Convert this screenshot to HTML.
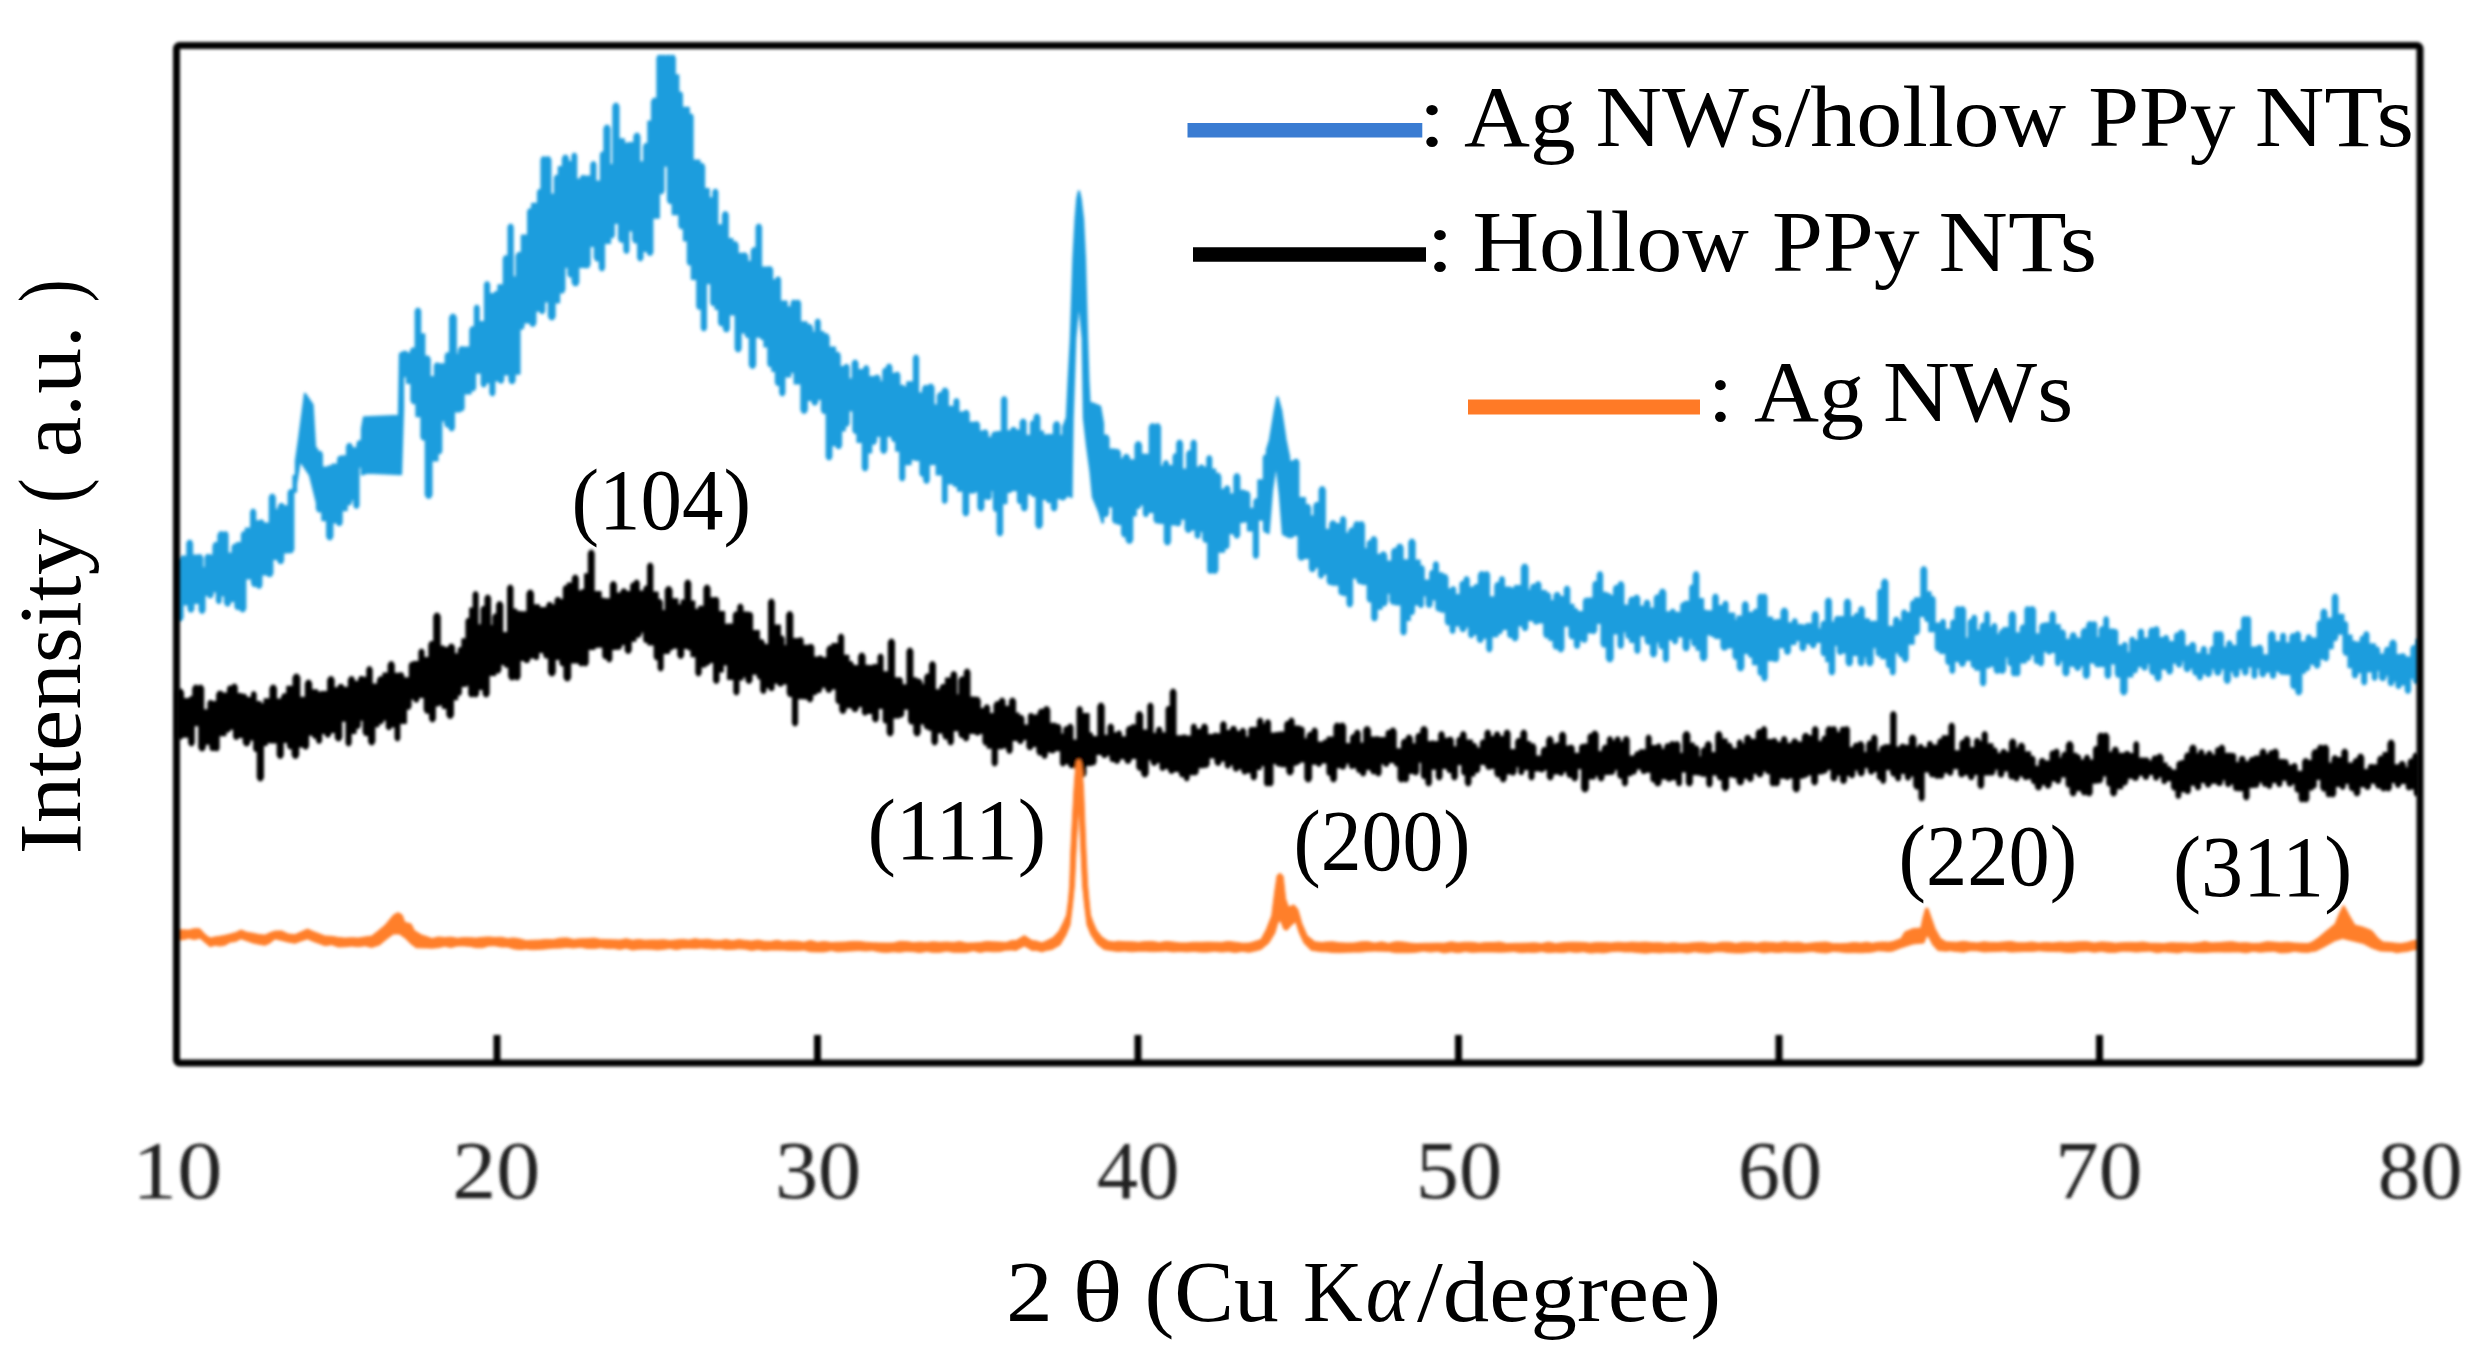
<!DOCTYPE html>
<html lang="en">
<head>
<meta charset="utf-8">
<title>XRD patterns</title>
<style>
html,body{margin:0;padding:0;background:#fff;}
body{width:2481px;height:1361px;overflow:hidden;}
svg{display:block;}
text{font-family:"Liberation Serif",serif;fill:#000;}
.tk text{fill:#222;}
</style>
</head>
<body>
<svg width="2481" height="1361" viewBox="0 0 2481 1361">
<defs>
<filter id="soft" x="-2%" y="-2%" width="104%" height="104%"><feGaussianBlur stdDeviation="1.4"/></filter>
<filter id="soft2" x="-2%" y="-2%" width="104%" height="104%"><feGaussianBlur stdDeviation="1.8"/></filter>
</defs>
<rect width="2481" height="1361" fill="#fff"/>
<g filter="url(#soft2)">
<path d="M177.5 561.6L178.6 559.7L180.2 559.7L181.3 561.6L181.3 556.8L187.4 556.8L187.4 543.2L188.7 541.0L190.7 541.0L191.9 543.2L191.9 555.6L197.0 555.6L197.0 557.9L198.4 555.4L200.7 555.4L202.1 557.9L202.1 568.2L205.7 568.2L205.7 557.4L206.9 555.2L208.8 555.2L210.0 557.4L210.0 555.7L213.6 555.7L213.6 545.8L214.9 543.3L217.1 543.3L218.5 545.8L218.5 535.2L220.0 532.5L222.3 532.5L223.8 535.2L223.8 534.3L224.8 532.5L226.4 532.5L227.4 534.3L227.4 553.8L232.7 553.8L232.7 547.0L233.9 544.9L235.8 544.9L237.0 547.0L237.0 543.2L242.0 543.2L242.0 534.4L243.1 532.4L244.8 532.4L245.9 534.4L245.9 528.7L251.2 528.7L251.2 512.0L252.3 510.0L254.0 510.0L255.1 512.0L255.1 521.5L259.4 521.5L259.4 522.8L260.5 520.8L262.3 520.8L263.5 522.8L263.5 523.8L269.9 523.8L269.9 497.4L271.2 495.0L273.3 495.0L274.7 497.4L274.7 510.2L278.8 510.2L278.8 506.9L280.3 504.3L282.6 504.3L284.1 506.9L284.1 506.5L288.7 506.5L288.7 492.7L290.1 490.2L292.3 490.2L293.6 492.7L293.6 475.9L296.0 475.9L296.0 460.8L299.0 440.0L305.0 394.0L312.5 405.0L315.0 447.5L317.0 449.2L317.0 454.4L318.4 452.0L320.5 452.0L321.8 454.4L321.8 467.8L327.4 467.8L327.4 469.0L328.9 466.4L331.1 466.4L332.6 469.0L332.6 464.8L338.2 464.8L338.2 459.0L339.3 457.0L341.0 457.0L342.1 459.0L342.1 456.4L347.1 456.4L347.1 446.6L348.4 444.3L350.4 444.3L351.7 446.6L351.7 448.4L357.5 448.4L357.5 443.6L358.8 441.5L360.7 441.5L361.9 443.6L361.9 437.1L362.0 437.1L362.0 428.8L364.0 417.5L399.0 416.0L400.0 354.0L403.0 352.2L403.0 354.1L404.2 351.9L406.1 351.9L407.3 354.1L407.3 353.8L410.9 353.8L410.9 351.2L412.3 348.7L414.4 348.7L415.8 351.2L415.8 311.1L417.0 309.0L418.9 309.0L420.1 311.1L420.1 334.5L424.2 334.5L424.2 359.3L425.7 356.6L428.1 356.6L429.6 359.3L429.6 377.3L435.0 377.3L435.0 365.7L436.1 363.7L437.9 363.7L439.0 365.7L439.0 364.5L445.8 364.5L445.8 355.6L447.1 353.4L449.0 353.4L450.2 355.6L450.2 317.7L451.8 315.0L454.1 315.0L455.7 317.7L455.7 354.6L459.2 354.6L459.2 350.1L460.6 347.5L462.9 347.5L464.3 350.1L464.3 347.6L470.4 347.6L470.4 329.8L471.7 327.5L473.7 327.5L475.0 329.8L475.0 307.8L476.0 306.0L477.6 306.0L478.6 307.8L478.6 322.2L485.1 322.2L485.1 284.4L486.2 282.5L487.9 282.5L489.0 284.4L489.0 294.2L494.3 294.2L494.3 294.4L495.5 292.3L497.3 292.3L498.5 294.4L498.5 285.4L503.9 285.4L503.9 258.7L505.2 256.4L507.3 256.4L508.6 258.7L508.6 227.0L509.7 225.0L511.5 225.0L512.6 227.0L512.6 277.4L516.7 277.4L516.7 255.9L518.1 253.2L520.4 253.2L521.9 255.9L521.9 235.6L528.2 235.6L528.2 211.5L529.3 209.5L531.1 209.5L532.2 211.5L532.2 204.0L538.1 204.0L538.1 192.1L539.0 190.3L540.6 190.3L541.6 192.1L541.6 159.5L542.7 157.5L544.5 157.5L545.6 159.5L545.6 159.9L546.9 157.5L549.0 157.5L550.3 159.9L550.3 194.7L555.0 194.7L555.0 177.8L556.1 175.9L557.8 175.9L558.9 177.8L558.9 167.2L563.0 167.2L563.0 158.5L564.3 156.0L566.5 156.0L567.9 158.5L567.9 162.2L572.5 162.2L572.5 155.8L573.5 154.0L575.1 154.0L576.1 155.8L576.1 179.6L580.9 179.6L580.9 178.3L582.0 176.3L583.7 176.3L584.8 178.3L584.8 176.7L591.4 176.7L591.4 164.5L592.5 162.5L594.3 162.5L595.3 164.5L595.3 181.8L601.0 181.8L601.0 154.5L602.0 152.7L603.5 152.7L604.5 154.5L604.5 128.5L605.9 126.0L608.1 126.0L609.4 128.5L609.4 165.1L613.5 165.1L613.5 106.4L614.9 104.0L617.0 104.0L618.4 106.4L618.4 139.5L623.8 139.5L623.8 146.4L625.3 143.7L627.7 143.7L629.2 146.4L629.2 143.1L634.5 143.1L634.5 136.4L635.9 134.0L638.0 134.0L639.3 136.4L639.3 162.5L644.2 162.5L644.2 146.2L645.4 144.1L647.2 144.1L648.4 146.2L648.4 121.8L652.1 121.8L652.1 101.7L653.6 99.0L656.0 99.0L657.5 101.7L657.5 58.1L658.6 56.0L660.5 56.0L661.6 58.1L661.6 58.1L662.8 56.0L664.6 56.0L665.7 58.1L665.7 58.5L667.1 56.0L669.3 56.0L670.7 58.5L670.7 58.0L671.8 56.0L673.6 56.0L674.7 58.0L674.7 75.4L678.2 75.4L678.2 94.4L679.2 92.6L680.8 92.6L681.8 94.4L681.8 107.9L688.7 107.9L688.7 116.6L689.8 114.7L691.5 114.7L692.5 116.6L692.5 160.6L699.4 160.6L699.4 166.6L700.7 164.3L702.7 164.3L704.0 166.6L704.0 189.3L708.7 189.3L708.7 200.9L710.0 198.4L712.2 198.4L713.5 200.9L713.5 191.9L714.6 190.0L716.2 190.0L717.2 191.9L717.2 225.5L723.1 225.5L723.1 214.7L724.3 212.5L726.3 212.5L727.6 214.7L727.6 239.1L732.2 239.1L732.2 245.1L733.7 242.4L736.0 242.4L737.5 245.1L737.5 254.0L741.7 254.0L741.7 256.4L743.2 253.7L745.6 253.7L747.2 256.4L747.2 261.9L751.9 261.9L751.9 250.9L753.2 248.5L755.4 248.5L756.7 250.9L756.7 227.1L757.9 225.0L759.7 225.0L760.9 227.1L760.9 267.7L767.5 267.7L767.5 269.6L768.7 267.4L770.7 267.4L772.0 269.6L772.0 280.5L776.3 280.5L776.3 279.5L777.3 277.6L778.9 277.6L779.9 279.5L779.9 301.6L786.6 301.6L786.6 310.0L788.0 307.4L790.3 307.4L791.7 310.0L791.7 303.1L792.8 301.0L794.7 301.0L795.9 303.1L795.9 303.0L797.0 301.0L798.8 301.0L800.0 303.0L800.0 322.5L806.5 322.5L806.5 328.0L808.0 325.3L810.4 325.3L811.9 328.0L811.9 332.8L815.9 332.8L815.9 321.9L816.9 320.0L818.6 320.0L819.6 321.9L819.6 332.2L823.2 332.2L823.2 337.1L824.7 334.5L827.0 334.5L828.5 337.1L828.5 347.6L834.9 347.6L834.9 355.4L836.2 353.0L838.3 353.0L839.6 355.4L839.6 367.2L844.4 367.2L844.4 367.2L845.5 365.2L847.3 365.2L848.4 367.2L848.4 379.5L852.8 379.5L852.8 363.3L854.1 361.0L856.1 361.0L857.4 363.3L857.4 370.2L864.2 370.2L864.2 368.5L865.3 366.5L867.1 366.5L868.2 368.5L868.2 377.2L874.6 377.2L874.6 378.3L876.0 375.9L878.1 375.9L879.5 378.3L879.5 382.1L883.4 382.1L883.4 370.9L884.4 369.1L885.9 369.1L886.9 370.9L886.9 367.2L888.2 365.0L890.1 365.0L891.3 367.2L891.3 374.0L895.2 374.0L895.2 375.0L896.3 373.0L898.1 373.0L899.2 375.0L899.2 386.0L903.0 386.0L903.0 389.5L904.2 387.4L906.1 387.4L907.3 389.5L907.3 382.5L914.0 382.5L914.0 358.0L915.1 356.0L916.9 356.0L918.0 358.0L918.0 393.4L923.2 393.4L923.2 388.7L924.5 386.3L926.6 386.3L928.0 388.7L928.0 387.7L929.5 385.0L931.9 385.0L933.4 387.7L933.4 405.4L938.0 405.4L938.0 395.7L939.2 393.5L941.1 393.5L942.4 395.7L942.4 391.7L943.8 389.0L946.2 389.0L947.7 391.7L947.7 406.9L954.6 406.9L954.6 401.3L955.6 399.4L957.3 399.4L958.3 401.3L958.3 412.6L964.0 412.6L964.0 413.6L965.2 411.3L967.3 411.3L968.5 413.6L968.5 423.0L974.4 423.0L974.4 424.8L975.6 422.5L977.7 422.5L978.9 424.8L978.9 431.6L983.3 431.6L983.3 432.8L984.4 430.8L986.2 430.8L987.4 432.8L987.4 437.9L992.4 437.9L992.4 434.9L993.8 432.6L995.9 432.6L997.2 434.9L997.2 432.1L1002.1 432.1L1002.1 399.6L1003.3 397.5L1005.1 397.5L1006.2 399.6L1006.2 431.4L1010.9 431.4L1010.9 431.0L1012.3 428.3L1014.7 428.3L1016.1 431.0L1016.1 430.8L1020.8 430.8L1020.8 422.3L1022.1 420.0L1024.2 420.0L1025.5 422.3L1025.5 436.0L1031.1 436.0L1031.1 423.4L1032.0 421.6L1033.6 421.6L1034.6 423.4L1034.6 417.3L1035.9 415.0L1037.9 415.0L1039.2 417.3L1039.2 431.7L1042.9 431.7L1042.9 437.7L1044.3 435.4L1046.4 435.4L1047.7 437.7L1047.7 435.2L1054.0 435.2L1054.0 425.1L1055.5 422.5L1057.8 422.5L1059.2 425.1L1059.2 436.0L1063.3 436.0L1063.3 426.4L1064.0 426.4L1064.0 425.3L1066.9 418.0L1068.7 380.0L1070.9 338.7L1073.5 259.0L1075.6 219.7L1077.3 199.0L1078.9 191.5L1080.6 199.0L1083.0 219.7L1084.9 259.0L1087.0 338.7L1088.3 380.0L1089.5 403.0L1094.0 404.0L1100.0 406.5L1103.0 423.6L1103.0 438.3L1104.5 435.6L1106.9 435.6L1108.4 438.3L1108.4 449.7L1114.6 449.7L1114.6 452.9L1116.1 450.3L1118.3 450.3L1119.8 452.9L1119.8 459.5L1123.6 459.5L1123.6 457.9L1125.1 455.3L1127.5 455.3L1129.0 457.9L1129.0 460.5L1135.6 460.5L1135.6 445.2L1137.1 442.5L1139.4 442.5L1140.9 445.2L1140.9 454.8L1144.5 454.8L1144.5 457.5L1146.0 454.9L1148.4 454.9L1149.8 457.5L1149.8 427.1L1151.3 424.5L1153.6 424.5L1155.0 427.1L1155.0 426.9L1156.4 424.5L1158.5 424.5L1159.9 426.9L1159.9 466.6L1164.0 466.6L1164.0 463.3L1165.1 461.4L1166.8 461.4L1167.8 463.3L1167.8 466.3L1173.7 466.3L1173.7 456.4L1174.7 454.5L1176.3 454.5L1177.3 456.4L1177.3 443.3L1178.6 441.0L1180.6 441.0L1181.9 443.3L1181.9 469.8L1187.3 469.8L1187.3 453.7L1188.5 451.5L1190.5 451.5L1191.7 453.7L1191.7 443.0L1192.8 441.0L1194.6 441.0L1195.7 443.0L1195.7 467.8L1199.3 467.8L1199.3 468.0L1200.5 465.8L1202.4 465.8L1203.6 468.0L1203.6 467.7L1207.4 467.7L1207.4 458.4L1208.4 456.5L1210.1 456.5L1211.1 458.4L1211.1 469.7L1215.1 469.7L1215.1 476.6L1216.5 474.0L1218.8 474.0L1220.2 476.6L1220.2 489.9L1225.1 489.9L1225.1 488.5L1226.2 486.6L1228.0 486.6L1229.1 488.5L1229.1 494.5L1234.5 494.5L1234.5 476.9L1235.8 474.5L1237.9 474.5L1239.2 476.9L1239.2 490.9L1244.3 490.9L1244.3 494.6L1245.7 492.1L1247.9 492.1L1249.2 494.6L1249.2 509.0L1254.5 509.0L1254.5 501.4L1255.6 499.4L1257.3 499.4L1258.4 501.4L1258.4 480.5L1263.9 480.5L1263.9 457.3L1264.8 455.8L1266.1 455.8L1267.0 457.3L1267.0 449.9L1270.0 440.0L1275.0 410.0L1277.5 397.5L1281.0 410.0L1285.5 440.0L1289.0 457.1L1289.0 464.1L1290.3 461.7L1292.5 461.7L1293.8 464.1L1293.8 462.3L1295.1 460.0L1297.0 460.0L1298.3 462.3L1298.3 498.2L1304.9 498.2L1304.9 507.7L1306.3 505.1L1308.5 505.1L1309.9 507.7L1309.9 516.5L1314.5 516.5L1314.5 505.7L1316.0 503.1L1318.3 503.1L1319.7 505.7L1319.7 490.0L1321.1 487.5L1323.3 487.5L1324.7 490.0L1324.7 529.9L1330.3 529.9L1330.3 524.2L1331.7 521.6L1334.1 521.6L1335.6 524.2L1335.6 524.2L1341.1 524.2L1341.1 519.5L1342.2 517.5L1343.9 517.5L1345.1 519.5L1345.1 533.7L1349.3 533.7L1349.3 531.3L1350.7 528.8L1352.9 528.8L1354.3 531.3L1354.3 525.0L1355.7 522.5L1357.9 522.5L1359.3 525.0L1359.3 524.8L1360.5 522.5L1362.5 522.5L1363.8 524.8L1363.8 549.1L1367.9 549.1L1367.9 543.2L1368.9 541.4L1370.5 541.4L1371.5 543.2L1371.5 539.9L1372.8 537.5L1374.9 537.5L1376.2 539.9L1376.2 555.0L1380.6 555.0L1380.6 555.5L1382.2 552.8L1384.6 552.8L1386.1 555.5L1386.1 561.7L1392.3 561.7L1392.3 551.6L1393.6 549.2L1395.8 549.2L1397.1 551.6L1397.1 547.7L1398.6 545.0L1401.0 545.0L1402.5 547.7L1402.5 560.5L1409.4 560.5L1409.4 542.6L1410.8 540.0L1413.0 540.0L1414.5 542.6L1414.5 560.8L1419.5 560.8L1419.5 568.6L1420.6 566.5L1422.5 566.5L1423.6 568.6L1423.6 580.7L1430.3 580.7L1430.3 573.1L1431.3 571.3L1433.0 571.3L1434.0 573.1L1434.0 564.4L1435.1 562.5L1436.7 562.5L1437.8 564.4L1437.8 573.4L1442.3 573.4L1442.3 577.8L1443.7 575.3L1445.9 575.3L1447.3 577.8L1447.3 589.5L1451.5 589.5L1451.5 589.2L1452.5 587.5L1454.0 587.5L1455.0 589.2L1455.0 595.2L1460.6 595.2L1460.6 584.2L1461.7 582.2L1463.5 582.2L1464.6 584.2L1464.6 579.5L1465.7 577.5L1467.5 577.5L1468.6 579.5L1468.6 587.8L1474.1 587.8L1474.1 587.6L1475.5 585.2L1477.7 585.2L1479.0 587.6L1479.0 575.2L1480.5 572.5L1482.9 572.5L1484.5 575.2L1484.5 574.7L1485.7 572.5L1487.7 572.5L1488.9 574.7L1488.9 597.4L1495.4 597.4L1495.4 585.6L1496.7 583.3L1498.8 583.3L1500.1 585.6L1500.1 579.4L1501.1 577.5L1502.8 577.5L1503.8 579.4L1503.8 587.6L1510.1 587.6L1510.1 591.3L1511.5 588.8L1513.7 588.8L1515.1 591.3L1515.1 586.2L1522.0 586.2L1522.0 567.7L1523.5 565.0L1525.9 565.0L1527.4 567.7L1527.4 590.7L1531.4 590.7L1531.4 587.2L1532.7 584.9L1534.8 584.9L1536.1 587.2L1536.1 584.6L1537.2 582.5L1539.1 582.5L1540.3 584.6L1540.3 591.1L1545.6 591.1L1545.6 595.7L1546.9 593.5L1548.8 593.5L1550.0 595.7L1550.0 601.1L1554.6 601.1L1554.6 595.6L1556.0 593.1L1558.2 593.1L1559.6 595.6L1559.6 597.3L1564.9 597.3L1564.9 589.1L1566.1 587.0L1567.9 587.0L1569.1 589.1L1569.1 605.0L1573.3 605.0L1573.3 611.3L1574.5 609.2L1576.3 609.2L1577.4 611.3L1577.4 612.1L1584.0 612.1L1584.0 601.3L1585.2 599.0L1587.2 599.0L1588.5 601.3L1588.5 598.6L1593.6 598.6L1593.6 584.3L1594.8 582.2L1596.7 582.2L1597.9 584.3L1597.9 574.6L1599.1 572.5L1600.9 572.5L1602.0 574.6L1602.0 592.9L1606.1 592.9L1606.1 596.3L1607.4 594.1L1609.4 594.1L1610.7 596.3L1610.7 596.3L1614.2 596.3L1614.2 588.4L1615.4 586.2L1617.3 586.2L1618.6 588.4L1618.6 584.8L1619.9 582.5L1621.9 582.5L1623.2 584.8L1623.2 605.7L1629.3 605.7L1629.3 600.5L1630.7 598.0L1632.9 598.0L1634.3 600.5L1634.3 598.4L1635.6 596.0L1637.7 596.0L1639.1 598.4L1639.1 606.6L1644.9 606.6L1644.9 603.1L1646.1 600.9L1648.0 600.9L1649.2 603.1L1649.2 608.8L1654.9 608.8L1654.9 598.1L1656.3 595.6L1658.5 595.6L1659.9 598.1L1659.9 592.6L1661.4 590.0L1663.6 590.0L1665.1 592.6L1665.1 612.4L1670.7 612.4L1670.7 612.0L1671.8 610.0L1673.6 610.0L1674.7 612.0L1674.7 612.9L1681.3 612.9L1681.3 605.4L1682.4 603.5L1684.0 603.5L1685.1 605.4L1685.1 601.9L1690.3 601.9L1690.3 587.6L1691.3 585.8L1692.9 585.8L1693.9 587.6L1693.9 574.7L1695.1 572.5L1697.0 572.5L1698.2 574.7L1698.2 599.3L1703.0 599.3L1703.0 612.3L1704.0 610.6L1705.5 610.6L1706.5 612.3L1706.5 611.4L1713.3 611.4L1713.3 597.2L1714.5 595.0L1716.4 595.0L1717.6 597.2L1717.6 606.1L1723.5 606.1L1723.5 603.9L1724.6 602.0L1726.4 602.0L1727.4 603.9L1727.4 613.8L1734.1 613.8L1734.1 622.4L1735.1 620.6L1736.7 620.6L1737.7 622.4L1737.7 616.7L1743.0 616.7L1743.0 604.8L1744.3 602.5L1746.3 602.5L1747.6 604.8L1747.6 613.0L1753.6 613.0L1753.6 612.3L1755.0 609.9L1757.1 609.9L1758.4 612.3L1758.4 597.0L1759.6 595.0L1761.3 595.0L1762.5 597.0L1762.5 597.0L1763.6 595.0L1765.3 595.0L1766.4 597.0L1766.4 617.7L1771.9 617.7L1771.9 623.2L1773.3 620.7L1775.6 620.7L1777.0 623.2L1777.0 620.3L1781.6 620.3L1781.6 611.7L1783.2 609.0L1785.5 609.0L1787.1 611.7L1787.1 623.5L1793.0 623.5L1793.0 621.2L1794.0 619.5L1795.6 619.5L1796.6 621.2L1796.6 625.3L1802.3 625.3L1802.3 628.2L1803.5 626.0L1805.4 626.0L1806.6 628.2L1806.6 624.1L1812.9 624.1L1812.9 614.9L1814.2 612.5L1816.3 612.5L1817.6 614.9L1817.6 629.5L1821.7 629.5L1821.7 624.1L1823.0 621.9L1824.9 621.9L1826.1 624.1L1826.1 601.4L1827.4 599.0L1829.5 599.0L1830.8 601.4L1830.8 622.6L1835.2 622.6L1835.2 619.2L1836.3 617.3L1838.0 617.3L1839.0 619.2L1839.0 617.1L1845.0 617.1L1845.0 602.5L1846.4 600.0L1848.6 600.0L1850.0 602.5L1850.0 617.3L1854.4 617.3L1854.4 616.5L1855.7 614.0L1857.9 614.0L1859.3 616.5L1859.3 609.6L1860.5 607.5L1862.4 607.5L1863.6 609.6L1863.6 619.5L1868.8 619.5L1868.8 624.0L1869.9 622.1L1871.6 622.1L1872.7 624.0L1872.7 621.9L1878.3 621.9L1878.3 592.2L1879.4 590.2L1881.1 590.2L1882.2 592.2L1882.2 582.6L1883.7 580.0L1885.9 580.0L1887.3 582.6L1887.3 627.0L1894.2 627.0L1894.2 620.0L1895.4 617.9L1897.2 617.9L1898.4 620.0L1898.4 621.8L1902.3 621.8L1902.3 612.6L1903.4 610.8L1905.0 610.8L1906.0 612.6L1906.0 613.3L1911.2 613.3L1911.2 603.3L1912.3 601.4L1914.0 601.4L1915.1 603.3L1915.1 598.5L1921.5 598.5L1921.5 569.8L1922.8 567.5L1924.8 567.5L1926.1 569.8L1926.1 592.4L1930.4 592.4L1930.4 599.3L1931.5 597.2L1933.3 597.2L1934.5 599.3L1934.5 623.8L1941.2 623.8L1941.2 622.0L1942.2 620.2L1943.8 620.2L1944.8 622.0L1944.8 629.9L1951.3 629.9L1951.3 622.7L1952.5 620.6L1954.4 620.6L1955.6 622.7L1955.6 609.6L1956.8 607.5L1958.7 607.5L1959.9 609.6L1959.9 610.0L1961.3 607.5L1963.5 607.5L1964.9 610.0L1964.9 638.6L1968.9 638.6L1968.9 622.1L1969.9 620.3L1971.4 620.3L1972.4 622.1L1972.4 617.8L1973.5 616.0L1975.0 616.0L1976.1 617.8L1976.1 630.9L1980.9 630.9L1980.9 625.8L1982.1 623.6L1984.1 623.6L1985.3 625.8L1985.3 614.3L1986.3 612.5L1987.9 612.5L1988.9 614.3L1988.9 627.7L1992.6 627.7L1992.6 626.1L1993.6 624.3L1995.2 624.3L1996.2 626.1L1996.2 635.0L2000.1 635.0L2000.1 632.3L2001.1 630.5L2002.6 630.5L2003.6 632.3L2003.6 628.2L2009.7 628.2L2009.7 615.1L2011.2 612.5L2013.5 612.5L2014.9 615.1L2014.9 633.5L2020.8 633.5L2020.8 628.0L2022.1 625.6L2024.2 625.6L2025.5 628.0L2025.5 609.5L2026.6 607.5L2028.4 607.5L2029.5 609.5L2029.5 610.2L2031.0 607.5L2033.4 607.5L2034.9 610.2L2034.9 634.4L2040.4 634.4L2040.4 626.6L2041.8 624.2L2043.8 624.2L2045.2 626.6L2045.2 623.4L2050.5 623.4L2050.5 614.6L2051.7 612.5L2053.5 612.5L2054.7 614.6L2054.7 625.2L2059.6 625.2L2059.6 633.3L2061.1 630.7L2063.4 630.7L2064.9 633.3L2064.9 640.0L2070.7 640.0L2070.7 636.0L2072.1 633.5L2074.3 633.5L2075.7 636.0L2075.7 638.8L2081.8 638.8L2081.8 632.0L2083.4 629.3L2085.8 629.3L2087.3 632.0L2087.3 625.1L2088.7 622.5L2091.0 622.5L2092.5 625.1L2092.5 624.3L2093.5 622.5L2095.1 622.5L2096.1 624.3L2096.1 637.9L2099.9 637.9L2099.9 629.7L2101.2 627.5L2103.1 627.5L2104.4 629.7L2104.4 619.3L2105.4 617.5L2106.9 617.5L2107.9 619.3L2107.9 629.8L2113.3 629.8L2113.3 632.0L2114.4 630.1L2116.0 630.1L2117.1 632.0L2117.1 646.0L2123.0 646.0L2123.0 644.8L2124.0 643.1L2125.6 643.1L2126.6 644.8L2126.6 653.3L2130.4 653.3L2130.4 639.8L2131.4 638.0L2133.0 638.0L2134.1 639.8L2134.1 640.9L2138.9 640.9L2138.9 631.9L2140.1 629.9L2141.9 629.9L2143.0 631.9L2143.0 638.6L2149.3 638.6L2149.3 631.4L2150.8 628.8L2153.1 628.8L2154.5 631.4L2154.5 629.5L2155.6 627.5L2157.4 627.5L2158.5 629.5L2158.5 638.2L2164.0 638.2L2164.0 638.4L2165.1 636.3L2167.0 636.3L2168.2 638.4L2168.2 642.2L2175.0 642.2L2175.0 635.7L2176.0 633.8L2177.7 633.8L2178.7 635.7L2178.7 633.7L2180.2 631.0L2182.6 631.0L2184.2 633.7L2184.2 646.6L2190.2 646.6L2190.2 645.5L2191.6 643.1L2193.7 643.1L2195.1 645.5L2195.1 653.6L2201.7 653.6L2201.7 649.3L2202.9 647.3L2204.7 647.3L2205.8 649.3L2205.8 655.1L2210.6 655.1L2210.6 649.2L2211.7 647.3L2213.3 647.3L2214.3 649.2L2214.3 634.3L2215.3 632.5L2216.9 632.5L2217.9 634.3L2217.9 634.9L2219.2 632.5L2221.4 632.5L2222.7 634.9L2222.7 647.9L2227.3 647.9L2227.3 643.8L2228.5 641.7L2230.3 641.7L2231.5 643.8L2231.5 646.2L2237.6 646.2L2237.6 633.1L2238.9 630.8L2240.9 630.8L2242.2 633.1L2242.2 619.6L2243.3 617.5L2245.2 617.5L2246.3 619.6L2246.3 619.3L2247.4 617.5L2249.0 617.5L2250.0 619.3L2250.0 647.6L2256.9 647.6L2256.9 648.7L2258.4 646.0L2260.7 646.0L2262.2 648.7L2262.2 655.4L2269.1 655.4L2269.1 635.2L2270.6 632.5L2273.0 632.5L2274.5 635.2L2274.5 642.3L2281.2 642.3L2281.2 635.8L2282.3 633.9L2283.9 633.9L2285.0 635.8L2285.0 643.5L2290.5 643.5L2290.5 637.0L2291.9 634.4L2294.1 634.4L2295.5 637.0L2295.5 634.6L2296.7 632.5L2298.6 632.5L2299.8 634.6L2299.8 642.3L2306.6 642.3L2306.6 638.0L2307.8 635.8L2309.7 635.8L2310.9 638.0L2310.9 638.7L2317.8 638.7L2317.8 623.7L2318.9 621.7L2320.6 621.7L2321.6 623.7L2321.6 612.3L2322.9 610.0L2325.0 610.0L2326.3 612.3L2326.3 618.6L2332.9 618.6L2332.9 597.2L2334.1 595.0L2336.1 595.0L2337.3 597.2L2337.3 615.0L2343.3 615.0L2343.3 624.2L2344.3 622.4L2346.0 622.4L2347.0 624.2L2347.0 635.7L2351.4 635.7L2351.4 643.6L2352.6 641.6L2354.3 641.6L2355.5 643.6L2355.5 642.6L2360.8 642.6L2360.8 638.7L2361.8 636.9L2363.4 636.9L2364.4 638.7L2364.4 634.4L2365.5 632.5L2367.2 632.5L2368.3 634.4L2368.3 644.5L2374.8 644.5L2374.8 649.8L2376.0 647.7L2377.9 647.7L2379.0 649.8L2379.0 654.6L2385.0 654.6L2385.0 650.5L2386.5 647.9L2388.8 647.9L2390.3 650.5L2390.3 643.6L2391.8 641.0L2394.1 641.0L2395.6 643.6L2395.6 655.3L2400.6 655.3L2400.6 656.7L2401.9 654.4L2403.9 654.4L2405.2 656.7L2405.2 657.7L2411.5 657.7L2411.5 648.7L2412.9 646.2L2415.2 646.2L2416.6 648.7L2416.6 640.0L2418.0 640.0L2418.0 680.8L2416.9 682.7L2415.2 682.7L2414.1 680.8L2414.1 677.7L2409.9 677.7L2409.9 690.5L2408.8 692.5L2407.0 692.5L2405.9 690.5L2405.9 684.2L2400.5 684.2L2400.5 685.8L2399.4 687.7L2397.7 687.7L2396.6 685.8L2396.6 680.6L2393.0 680.6L2393.0 682.8L2391.9 684.9L2390.0 684.9L2388.9 682.8L2388.9 674.6L2385.3 674.6L2385.3 677.3L2383.9 679.9L2381.6 679.9L2380.1 677.3L2380.1 669.7L2376.4 669.7L2376.4 677.7L2375.4 679.5L2373.8 679.5L2372.8 677.7L2372.8 671.4L2366.1 671.4L2366.1 682.1L2365.0 684.0L2363.4 684.0L2362.3 682.1L2362.3 672.1L2357.0 672.1L2357.0 675.1L2355.9 677.1L2354.1 677.1L2353.0 675.1L2353.0 667.1L2348.6 667.1L2348.6 652.0L2347.2 654.5L2345.0 654.5L2343.6 652.0L2343.6 633.5L2337.1 633.5L2337.1 637.7L2335.8 640.0L2333.8 640.0L2332.6 637.7L2332.6 648.1L2328.0 648.1L2328.0 658.0L2326.9 660.0L2325.1 660.0L2323.9 658.0L2323.9 658.2L2319.4 658.2L2319.4 664.9L2318.1 667.2L2316.0 667.2L2314.7 664.9L2314.7 663.6L2309.4 663.6L2309.4 667.4L2308.1 669.7L2306.1 669.7L2304.8 667.4L2304.8 672.5L2301.2 672.5L2301.2 691.6L2299.8 694.0L2297.7 694.0L2296.3 691.6L2296.3 685.3L2295.0 687.8L2292.8 687.8L2291.4 685.3L2291.4 673.8L2284.9 673.8L2284.9 670.9L2283.3 673.6L2280.9 673.6L2279.4 670.9L2279.4 670.6L2275.1 670.6L2275.1 675.4L2273.9 677.5L2272.1 677.5L2270.9 675.4L2270.9 671.5L2265.2 671.5L2265.2 673.7L2263.8 676.0L2261.8 676.0L2260.4 673.7L2260.4 667.5L2256.2 667.5L2256.2 675.7L2255.2 677.5L2253.6 677.5L2252.6 675.7L2252.6 666.3L2247.5 666.3L2247.5 672.1L2246.3 674.3L2244.4 674.3L2243.1 672.1L2243.1 668.4L2238.4 668.4L2238.4 674.1L2237.1 676.4L2235.1 676.4L2233.8 674.1L2233.8 670.9L2229.7 670.9L2229.7 680.0L2228.3 682.5L2226.2 682.5L2224.8 680.0L2224.8 668.2L2220.5 668.2L2220.5 671.7L2219.0 674.4L2216.6 674.4L2215.1 671.7L2215.1 668.1L2211.1 668.1L2211.1 672.9L2209.6 675.7L2207.2 675.7L2205.6 672.9L2205.6 673.4L2201.9 673.4L2201.9 677.0L2200.8 679.0L2199.0 679.0L2197.9 677.0L2197.9 671.9L2196.6 674.2L2194.6 674.2L2193.3 671.9L2193.3 667.6L2189.7 667.6L2189.7 668.5L2188.3 670.9L2186.1 670.9L2184.7 668.5L2184.7 660.2L2181.2 660.2L2181.2 664.3L2180.0 666.4L2178.2 666.4L2177.0 664.3L2177.0 662.5L2172.0 662.5L2172.0 670.8L2170.6 673.2L2168.5 673.2L2167.2 670.8L2167.2 668.5L2160.5 668.5L2160.5 677.6L2159.1 680.0L2156.9 680.0L2155.6 677.6L2155.6 671.1L2154.1 673.7L2151.8 673.7L2150.3 671.1L2150.3 663.0L2146.6 663.0L2146.6 667.3L2145.5 669.3L2143.7 669.3L2142.5 667.3L2142.5 666.1L2136.9 666.1L2136.9 669.8L2135.6 672.1L2133.5 672.1L2132.2 669.8L2132.2 676.2L2126.4 676.2L2126.4 691.4L2124.9 694.0L2122.7 694.0L2121.2 691.4L2121.2 674.0L2119.8 676.6L2117.5 676.6L2116.0 674.0L2116.0 663.2L2110.1 663.2L2110.1 675.3L2108.9 677.5L2106.9 677.5L2105.7 675.3L2105.7 665.9L2100.2 665.9L2100.2 663.6L2098.8 666.1L2096.5 666.1L2095.1 663.6L2095.1 662.4L2088.8 662.4L2088.8 675.0L2087.4 677.5L2085.2 677.5L2083.9 675.0L2083.9 665.1L2080.1 665.1L2080.1 667.2L2078.7 669.6L2076.6 669.6L2075.2 667.2L2075.2 665.6L2068.4 665.6L2068.4 672.6L2067.0 675.0L2064.9 675.0L2063.5 672.6L2063.5 660.4L2059.7 660.4L2059.7 663.0L2058.7 664.8L2057.1 664.8L2056.1 663.0L2056.1 651.7L2051.1 651.7L2051.1 651.3L2050.0 653.4L2048.2 653.4L2047.0 651.3L2047.0 651.0L2042.9 651.0L2042.9 663.1L2041.8 665.0L2040.1 665.0L2039.0 663.1L2039.0 660.6L2037.8 662.7L2035.9 662.7L2034.8 660.6L2034.8 654.1L2030.2 654.1L2030.2 657.3L2029.0 659.6L2027.0 659.6L2025.7 657.3L2025.7 662.3L2019.3 662.3L2019.3 673.2L2018.3 675.0L2016.7 675.0L2015.7 673.2L2015.7 673.2L2014.7 675.0L2013.1 675.0L2012.1 673.2L2012.1 663.0L2011.1 664.8L2009.6 664.8L2008.6 663.0L2008.6 656.5L2005.0 656.5L2005.0 669.8L2003.5 672.5L2001.2 672.5L1999.7 669.8L1999.7 670.0L1998.3 672.5L1996.1 672.5L1994.7 670.0L1994.7 662.9L1993.2 665.6L1990.8 665.6L1989.3 662.9L1989.3 667.1L1985.1 667.1L1985.1 683.0L1984.0 685.0L1982.2 685.0L1981.1 683.0L1981.1 669.5L1975.5 669.5L1975.5 664.9L1974.5 666.8L1972.8 666.8L1971.8 664.9L1971.8 659.7L1964.9 659.7L1964.9 662.8L1963.4 665.5L1961.1 665.5L1959.7 662.8L1959.7 660.9L1954.1 660.9L1954.1 670.7L1953.1 672.5L1951.5 672.5L1950.5 670.7L1950.5 661.6L1949.4 663.7L1947.5 663.7L1946.4 661.6L1946.4 652.8L1940.3 652.8L1940.3 648.1L1939.0 650.3L1937.1 650.3L1935.9 648.1L1935.9 631.1L1929.4 631.1L1929.4 618.6L1928.2 620.7L1926.4 620.7L1925.2 618.6L1925.2 615.8L1918.9 615.8L1918.9 631.4L1917.4 634.0L1915.1 634.0L1913.6 631.4L1913.6 643.5L1907.5 643.5L1907.5 658.8L1906.3 661.0L1904.3 661.0L1903.1 658.8L1903.1 654.2L1901.9 656.2L1900.2 656.2L1899.0 654.2L1899.0 652.1L1894.6 652.1L1894.6 672.2L1893.5 674.0L1891.9 674.0L1890.9 672.2L1890.9 665.0L1889.8 667.0L1888.1 667.0L1887.1 665.0L1887.1 658.1L1881.4 658.1L1881.4 653.1L1880.1 655.4L1878.1 655.4L1876.8 653.1L1876.8 647.1L1872.4 647.1L1872.4 662.4L1870.9 665.0L1868.7 665.0L1867.2 662.4L1867.2 656.2L1863.5 656.2L1863.5 662.5L1862.2 664.9L1860.1 664.9L1858.8 662.5L1858.8 654.9L1851.8 654.9L1851.8 662.4L1850.4 665.0L1848.1 665.0L1846.7 662.4L1846.7 652.2L1842.0 652.2L1842.0 651.8L1841.0 653.7L1839.3 653.7L1838.2 651.8L1838.2 644.7L1834.0 644.7L1834.0 671.9L1832.8 674.0L1831.0 674.0L1829.8 671.9L1829.8 661.1L1826.3 661.1L1826.3 652.9L1825.1 655.1L1823.1 655.1L1821.8 652.9L1821.8 641.9L1815.4 641.9L1815.4 644.8L1814.1 647.0L1812.2 647.0L1810.9 644.8L1810.9 643.0L1805.2 643.0L1805.2 647.7L1803.9 650.0L1801.9 650.0L1800.6 647.7L1800.6 637.4L1799.1 640.0L1796.7 640.0L1795.3 637.4L1795.3 643.8L1789.8 643.8L1789.8 651.1L1788.5 653.5L1786.4 653.5L1785.1 651.1L1785.1 647.0L1778.1 647.0L1778.1 658.3L1776.7 660.8L1774.5 660.8L1773.1 658.3L1773.1 660.1L1766.5 660.1L1766.5 678.0L1765.4 680.0L1763.6 680.0L1762.5 678.0L1762.5 672.7L1761.4 674.6L1759.7 674.6L1758.7 672.7L1758.7 664.1L1753.1 664.1L1753.1 654.3L1751.9 656.5L1749.9 656.5L1748.7 654.3L1748.7 652.7L1743.2 652.7L1743.2 667.3L1741.7 670.0L1739.4 670.0L1737.9 667.3L1737.9 656.3L1736.7 658.5L1734.8 658.5L1733.6 656.3L1733.6 647.4L1727.1 647.4L1727.1 646.6L1725.6 649.3L1723.2 649.3L1721.6 646.6L1721.6 637.8L1715.2 637.8L1715.2 633.6L1713.9 635.8L1712.0 635.8L1710.7 633.6L1710.7 634.4L1706.2 634.4L1706.2 657.3L1704.7 660.0L1702.4 660.0L1700.9 657.3L1700.9 649.6L1696.8 649.6L1696.8 643.1L1695.5 645.3L1693.6 645.3L1692.4 643.1L1692.4 638.2L1688.6 638.2L1688.6 647.5L1687.2 650.0L1685.0 650.0L1683.6 647.5L1683.6 636.3L1677.0 636.3L1677.0 641.1L1675.9 643.0L1674.2 643.0L1673.1 641.1L1673.1 639.4L1667.8 639.4L1667.8 659.1L1666.7 661.0L1665.0 661.0L1664.0 659.1L1664.0 645.8L1662.7 648.0L1660.8 648.0L1659.6 645.8L1659.6 641.6L1655.9 641.6L1655.9 653.6L1654.6 656.0L1652.4 656.0L1651.1 653.6L1651.1 640.9L1649.6 643.5L1647.2 643.5L1645.7 640.9L1645.7 635.2L1639.3 635.2L1639.3 650.5L1638.2 652.5L1636.5 652.5L1635.4 650.5L1635.4 641.7L1630.3 641.7L1630.3 635.7L1629.3 637.6L1627.6 637.6L1626.6 635.7L1626.6 631.3L1622.7 631.3L1622.7 645.5L1621.6 647.5L1619.8 647.5L1618.7 645.5L1618.7 633.4L1612.5 633.4L1612.5 658.3L1611.0 661.0L1608.6 661.0L1607.0 658.3L1607.0 643.7L1605.5 646.3L1603.2 646.3L1601.7 643.7L1601.7 622.8L1596.0 622.8L1596.0 630.4L1594.6 632.7L1592.6 632.7L1591.2 630.4L1591.2 632.3L1586.4 632.3L1586.4 639.6L1585.3 641.6L1583.6 641.6L1582.5 639.6L1582.5 640.0L1579.0 640.0L1579.0 645.5L1577.9 647.5L1576.1 647.5L1575.0 645.5L1575.0 635.4L1573.5 638.1L1571.1 638.1L1569.6 635.4L1569.6 625.6L1563.3 625.6L1563.3 648.5L1561.9 651.0L1559.7 651.0L1558.4 648.5L1558.4 646.1L1557.1 648.3L1555.1 648.3L1553.8 646.1L1553.8 639.8L1549.5 639.8L1549.5 634.4L1548.0 637.0L1545.7 637.0L1544.3 634.4L1544.3 622.3L1538.6 622.3L1538.6 620.6L1537.1 623.2L1534.9 623.2L1533.5 620.6L1533.5 620.1L1527.1 620.1L1527.1 627.8L1525.9 629.8L1524.2 629.8L1523.0 627.8L1523.0 625.3L1517.4 625.3L1517.4 637.7L1516.1 640.0L1514.0 640.0L1512.7 637.7L1512.7 634.7L1511.5 636.9L1509.5 636.9L1508.3 634.7L1508.3 628.8L1501.9 628.8L1501.9 630.7L1500.6 633.0L1498.6 633.0L1497.3 630.7L1497.3 636.0L1491.3 636.0L1491.3 649.0L1490.2 651.0L1488.5 651.0L1487.4 649.0L1487.4 637.6L1482.6 637.6L1482.6 639.2L1481.3 641.6L1479.2 641.6L1477.8 639.2L1477.8 634.1L1473.0 634.1L1473.0 634.9L1471.9 636.8L1470.3 636.8L1469.3 634.9L1469.3 626.2L1465.4 626.2L1465.4 628.4L1464.0 630.9L1461.9 630.9L1460.5 628.4L1460.5 625.2L1454.4 625.2L1454.4 630.7L1453.4 632.5L1451.8 632.5L1450.8 630.7L1450.8 621.9L1449.4 624.3L1447.4 624.3L1446.0 621.9L1446.0 611.5L1441.2 611.5L1441.2 608.1L1439.9 610.4L1437.8 610.4L1436.5 608.1L1436.5 599.3L1431.5 599.3L1431.5 604.3L1430.2 606.6L1428.2 606.6L1426.9 604.3L1426.9 595.4L1422.7 595.4L1422.7 604.9L1421.7 606.8L1420.0 606.8L1419.0 604.9L1419.0 604.3L1413.8 604.3L1413.8 611.8L1412.7 613.9L1410.8 613.9L1409.6 611.8L1409.6 619.9L1405.6 619.9L1405.6 631.9L1404.5 634.0L1402.6 634.0L1401.5 631.9L1401.5 604.2L1395.8 604.2L1395.8 601.0L1394.3 603.5L1392.1 603.5L1390.6 601.0L1390.6 592.7L1386.6 592.7L1386.6 602.5L1385.1 605.1L1382.9 605.1L1381.4 602.5L1381.4 608.6L1376.6 608.6L1376.6 617.9L1375.4 620.0L1373.5 620.0L1372.3 617.9L1372.3 599.0L1371.0 601.3L1369.0 601.3L1367.8 599.0L1367.8 583.7L1362.4 583.7L1362.4 580.3L1361.0 582.8L1358.9 582.8L1357.5 580.3L1357.5 577.6L1351.9 577.6L1351.9 603.8L1350.7 606.0L1348.8 606.0L1347.6 603.8L1347.6 594.8L1343.0 594.8L1343.0 592.1L1342.0 593.9L1340.4 593.9L1339.5 592.1L1339.5 584.6L1332.5 584.6L1332.5 581.4L1331.2 583.8L1329.1 583.8L1327.8 581.4L1327.8 573.5L1322.9 573.5L1322.9 575.4L1321.9 577.3L1320.2 577.3L1319.2 575.4L1319.2 566.7L1314.8 566.7L1314.8 568.5L1313.5 570.9L1311.3 570.9L1310.0 568.5L1310.0 557.9L1304.0 557.9L1304.0 556.7L1302.5 559.4L1300.2 559.4L1298.7 556.7L1298.7 534.9L1293.7 534.9L1293.7 534.4L1292.4 536.8L1290.3 536.8L1289.0 534.4L1289.0 537.0L1283.0 534.0L1280.0 495.0L1276.2 461.0L1272.0 490.0L1268.5 533.0L1267.0 532.4L1267.0 529.9L1266.2 531.3L1264.9 531.3L1264.1 529.9L1264.1 519.6L1257.8 519.6L1257.8 555.5L1256.7 557.5L1255.0 557.5L1253.9 555.5L1253.9 530.2L1248.0 530.2L1248.0 518.7L1246.5 521.4L1244.1 521.4L1242.6 518.7L1242.6 521.9L1239.1 521.9L1239.1 534.9L1237.8 537.2L1235.8 537.2L1234.5 534.9L1234.5 533.1L1228.4 533.1L1228.4 545.8L1227.2 547.9L1225.3 547.9L1224.1 545.8L1224.1 551.6L1217.3 551.6L1217.3 569.9L1215.9 572.5L1213.6 572.5L1212.1 569.9L1212.1 570.6L1211.1 572.5L1209.4 572.5L1208.3 570.6L1208.3 539.2L1207.0 541.6L1204.9 541.6L1203.5 539.2L1203.5 530.9L1199.4 530.9L1199.4 535.6L1198.4 537.4L1196.8 537.4L1195.8 535.6L1195.8 529.4L1191.0 529.4L1191.0 529.0L1189.5 531.6L1187.3 531.6L1185.8 529.0L1185.8 518.5L1180.3 518.5L1180.3 522.9L1179.1 525.1L1177.2 525.1L1175.9 522.9L1175.9 524.2L1169.9 524.2L1169.9 541.5L1168.5 544.0L1166.3 544.0L1164.9 541.5L1164.9 522.8L1159.7 522.8L1159.7 519.8L1158.3 522.3L1156.1 522.3L1154.6 519.8L1154.6 511.7L1147.7 511.7L1147.7 513.9L1146.7 515.8L1145.1 515.8L1144.0 513.9L1144.0 504.3L1139.9 504.3L1139.9 505.8L1138.7 507.9L1136.9 507.9L1135.7 505.8L1135.7 515.3L1132.1 515.3L1132.1 539.8L1130.6 542.5L1128.2 542.5L1126.6 539.8L1126.6 533.7L1125.4 536.0L1123.4 536.0L1122.2 533.7L1122.2 523.8L1118.1 523.8L1118.1 520.2L1116.7 522.6L1114.6 522.6L1113.2 520.2L1113.2 506.2L1107.9 506.2L1107.9 513.4L1106.5 515.8L1104.4 515.8L1103.0 513.4L1103.0 521.7L1102.5 522.5L1098.8 510.7L1093.0 497.0L1090.5 471.0L1087.0 445.0L1084.0 418.0L1082.7 338.7L1078.9 298.0L1075.2 338.7L1072.6 418.0L1071.8 470.0L1071.5 497.0L1067.5 495.0L1064.0 498.9L1064.0 497.8L1063.2 499.3L1061.9 499.3L1061.1 497.8L1061.1 498.1L1056.3 498.1L1056.3 507.8L1055.1 510.0L1053.1 510.0L1051.9 507.8L1051.9 499.1L1050.4 501.8L1048.0 501.8L1046.4 499.1L1046.4 498.7L1041.7 498.7L1041.7 524.9L1040.2 527.5L1037.9 527.5L1036.5 524.9L1036.5 493.2L1035.0 495.7L1032.8 495.7L1031.4 493.2L1031.4 493.4L1026.6 493.4L1026.6 507.7L1025.4 510.0L1023.3 510.0L1022.0 507.7L1022.0 500.8L1020.9 502.8L1019.1 502.8L1018.0 500.8L1018.0 490.0L1011.7 490.0L1011.7 489.2L1010.2 491.9L1007.9 491.9L1006.4 489.2L1006.4 503.1L1002.0 503.1L1002.0 532.9L1000.8 535.0L998.9 535.0L997.7 532.9L997.7 508.7L996.7 510.5L995.1 510.5L994.0 508.7L994.0 490.1L990.5 490.1L990.5 496.9L989.5 498.7L987.9 498.7L986.9 496.9L986.9 498.3L983.3 498.3L983.3 507.6L981.9 510.0L979.9 510.0L978.5 507.6L978.5 488.9L977.3 491.1L975.4 491.1L974.2 488.9L974.2 492.3L968.0 492.3L968.0 512.8L966.7 515.0L964.8 515.0L963.6 512.8L963.6 490.6L958.1 490.6L958.1 483.5L956.7 485.9L954.6 485.9L953.3 483.5L953.3 483.4L946.5 483.4L946.5 500.7L945.5 502.5L943.9 502.5L943.0 500.7L943.0 474.4L936.7 474.4L936.7 461.8L935.5 463.8L933.7 463.8L932.6 461.8L932.6 464.0L928.7 464.0L928.7 480.3L927.5 482.5L925.6 482.5L924.3 480.3L924.3 473.6L923.3 475.5L921.6 475.5L920.5 473.6L920.5 459.9L915.8 459.9L915.8 456.4L914.4 459.0L912.1 459.0L910.6 456.4L910.6 464.0L904.1 464.0L904.1 478.1L903.0 480.0L901.3 480.0L900.3 478.1L900.3 450.5L896.2 450.5L896.2 438.6L895.1 440.7L893.3 440.7L892.1 438.6L892.1 435.7L886.2 435.7L886.2 450.0L884.8 452.5L882.7 452.5L881.3 450.0L881.3 435.9L875.9 435.9L875.9 441.2L874.5 443.6L872.4 443.6L871.1 441.2L871.1 452.3L867.2 452.3L867.2 467.8L866.0 470.0L864.1 470.0L862.9 467.8L862.9 441.8L857.5 441.8L857.5 430.7L856.4 432.7L854.7 432.7L853.5 430.7L853.5 410.2L848.5 410.2L848.5 423.5L847.4 425.5L845.7 425.5L844.7 423.5L844.7 430.3L841.0 430.3L841.0 445.4L839.6 447.8L837.6 447.8L836.2 445.4L836.2 445.1L831.3 445.1L831.3 456.7L830.1 459.0L828.0 459.0L826.8 456.7L826.8 410.4L825.4 412.7L823.4 412.7L822.0 410.4L822.0 398.7L817.1 398.7L817.1 401.9L815.8 404.3L813.7 404.3L812.4 401.9L812.4 399.7L806.7 399.7L806.7 409.9L805.2 412.5L803.0 412.5L801.5 409.9L801.5 383.4L794.7 383.4L794.7 369.4L793.5 371.7L791.5 371.7L790.2 369.4L790.2 376.2L784.3 376.2L784.3 393.0L783.2 395.0L781.4 395.0L780.3 393.0L780.3 382.6L779.1 384.7L777.2 384.7L776.0 382.6L776.0 370.7L772.4 370.7L772.4 363.9L771.3 366.0L769.5 366.0L768.4 363.9L768.4 346.4L764.5 346.4L764.5 337.1L763.5 338.9L761.9 338.9L760.9 337.1L760.9 336.6L755.0 336.6L755.0 365.0L753.6 367.5L751.4 367.5L749.9 365.0L749.9 334.7L748.8 336.8L746.9 336.8L745.8 334.7L745.8 332.4L740.5 332.4L740.5 348.6L739.2 351.0L737.1 351.0L735.8 348.6L735.8 314.3L728.8 314.3L728.8 328.6L727.5 331.0L725.3 331.0L724.0 328.6L724.0 322.8L722.6 325.1L720.6 325.1L719.2 322.8L719.2 308.9L715.7 308.9L715.7 302.8L714.4 304.9L712.5 304.9L711.3 302.8L711.3 283.1L705.8 283.1L705.8 328.1L704.7 330.0L703.0 330.0L701.9 328.1L701.9 306.3L700.6 308.6L698.6 308.6L697.3 306.3L697.3 278.8L691.9 278.8L691.9 262.3L690.8 264.3L689.0 264.3L687.9 262.3L687.9 240.2L684.0 240.2L684.0 225.7L682.7 228.0L680.7 228.0L679.5 225.7L679.5 214.1L672.8 214.1L672.8 200.4L671.5 202.8L669.4 202.8L668.1 200.4L668.1 165.6L663.4 165.6L663.4 190.8L662.1 193.1L660.1 193.1L658.8 190.8L658.8 217.5L652.3 217.5L652.3 252.2L650.9 254.6L648.9 254.6L647.6 252.2L647.6 250.8L642.4 250.8L642.4 257.9L641.2 260.0L639.4 260.0L638.2 257.9L638.2 239.8L636.8 242.2L634.7 242.2L633.3 239.8L633.3 230.4L628.3 230.4L628.3 250.6L627.3 252.5L625.6 252.5L624.5 250.6L624.5 238.8L623.0 241.5L620.6 241.5L619.1 238.8L619.1 222.9L613.7 222.9L613.7 235.2L612.6 237.1L610.9 237.1L609.9 235.2L609.9 242.9L603.9 242.9L603.9 268.0L602.8 270.0L601.0 270.0L599.9 268.0L599.9 257.7L598.5 260.2L596.3 260.2L594.9 257.7L594.9 245.8L589.5 245.8L589.5 264.4L587.9 267.1L585.5 267.1L584.0 264.4L584.0 266.8L578.2 266.8L578.2 282.3L576.7 285.0L574.3 285.0L572.7 282.3L572.7 274.3L571.6 276.4L569.7 276.4L568.6 274.3L568.6 266.8L564.3 266.8L564.3 289.7L562.8 292.4L560.5 292.4L559.0 289.7L559.0 302.3L554.5 302.3L554.5 316.3L553.0 319.0L550.6 319.0L549.0 316.3L549.0 301.2L544.1 301.2L544.1 310.9L543.0 312.9L541.3 312.9L540.2 310.9L540.2 310.5L535.3 310.5L535.3 322.9L533.9 325.5L531.6 325.5L530.1 322.9L530.1 322.3L523.4 322.3L523.4 326.4L522.3 328.5L520.5 328.5L519.4 326.4L519.4 373.6L514.5 373.6L514.5 380.5L513.1 382.9L511.0 382.9L509.6 380.5L509.6 374.2L503.1 374.2L503.1 380.2L501.9 382.4L499.9 382.4L498.7 380.2L498.7 380.4L494.2 380.4L494.2 393.1L493.2 395.0L491.6 395.0L490.5 393.1L490.5 382.3L485.5 382.3L485.5 384.3L484.5 386.1L482.9 386.1L481.8 384.3L481.8 372.5L475.0 372.5L475.0 387.8L473.7 390.1L471.7 390.1L470.5 387.8L470.5 393.2L463.5 393.2L463.5 408.2L462.4 410.1L460.8 410.1L459.8 408.2L459.8 411.4L453.8 411.4L453.8 427.9L452.6 430.0L450.7 430.0L449.5 427.9L449.5 424.2L448.3 426.2L446.6 426.2L445.5 424.2L445.5 420.3L441.2 420.3L441.2 451.2L440.1 453.1L438.4 453.1L437.4 451.2L437.4 460.2L431.4 460.2L431.4 494.8L429.9 497.5L427.5 497.5L425.9 494.8L425.9 436.9L424.7 439.2L422.7 439.2L421.5 436.9L421.5 416.0L416.5 416.0L416.5 400.5L415.1 403.0L412.9 403.0L411.5 400.5L411.5 382.8L407.1 382.8L407.1 374.0L405.9 376.1L404.1 376.1L403.0 374.0L403.0 408.0L401.0 474.0L367.5 472.5L362.0 474.3L362.0 466.5L358.4 466.5L358.4 505.5L357.3 507.5L355.5 507.5L354.4 505.5L354.4 498.7L350.9 498.7L350.9 502.1L349.7 504.2L347.8 504.2L346.6 502.1L346.6 510.1L341.6 510.1L341.6 522.7L340.3 524.9L338.3 524.9L337.1 522.7L337.1 522.3L332.3 522.3L332.3 536.5L330.9 539.0L328.6 539.0L327.2 536.5L327.2 520.0L322.4 520.0L322.4 508.7L320.9 511.4L318.5 511.4L317.0 508.7L317.0 503.0L310.0 475.0L300.0 460.0L296.0 484.0L296.0 491.5L293.2 491.5L293.2 549.3L291.7 552.0L289.3 552.0L287.8 549.3L287.8 552.2L283.0 552.2L283.0 560.4L281.7 562.9L279.5 562.9L278.1 560.4L278.1 558.8L272.3 558.8L272.3 573.1L270.8 575.8L268.4 575.8L266.9 573.1L266.9 574.4L261.3 574.4L261.3 585.2L260.1 587.5L258.1 587.5L256.8 585.2L256.8 583.3L255.5 585.7L253.4 585.7L252.1 583.3L252.1 578.2L245.2 578.2L245.2 608.4L243.8 611.0L241.5 611.0L240.1 608.4L240.1 606.5L238.8 608.8L236.8 608.8L235.5 606.5L235.5 600.7L230.1 600.7L230.1 602.7L228.7 605.2L226.5 605.2L225.1 602.7L225.1 595.2L220.5 595.2L220.5 600.9L219.6 602.7L218.0 602.7L217.0 600.9L217.0 591.3L212.5 591.3L212.5 594.9L211.2 597.1L209.3 597.1L208.1 594.9L208.1 594.9L204.4 594.9L204.4 610.2L203.1 612.5L201.1 612.5L199.8 610.2L199.8 602.7L193.2 602.7L193.2 609.2L191.9 611.4L189.9 611.4L188.7 609.2L188.7 604.4L182.5 604.4L182.5 617.5L181.1 620.0L178.9 620.0L177.5 617.5Z" fill="#1f9ddd" stroke="#1f9ddd" stroke-width="2.4" stroke-linejoin="round"/>
<path d="M177.5 692.7L179.0 690.0L181.4 690.0L182.9 692.7L182.9 699.1L189.7 699.1L189.7 699.0L190.8 697.2L192.4 697.2L193.4 699.0L193.4 688.4L194.8 686.0L196.9 686.0L198.2 688.4L198.2 688.4L199.6 686.0L201.6 686.0L203.0 688.4L203.0 710.5L208.6 710.5L208.6 703.0L209.6 701.1L211.3 701.1L212.4 703.0L212.4 702.3L217.3 702.3L217.3 694.6L218.8 691.9L221.2 691.9L222.8 694.6L222.8 693.7L228.2 693.7L228.2 688.7L229.3 686.7L231.1 686.7L232.2 688.7L232.2 687.2L233.4 685.0L235.4 685.0L236.6 687.2L236.6 694.2L241.2 694.2L241.2 697.6L242.7 694.9L245.0 694.9L246.5 697.6L246.5 698.2L252.0 698.2L252.0 694.3L253.0 692.5L254.5 692.5L255.5 694.3L255.5 702.1L260.2 702.1L260.2 706.7L261.4 704.4L263.4 704.4L264.7 706.7L264.7 699.5L270.6 699.5L270.6 688.6L272.0 686.0L274.4 686.0L275.8 688.6L275.8 699.6L282.1 699.6L282.1 697.2L283.6 694.5L286.0 694.5L287.4 697.2L287.4 686.9L293.7 686.9L293.7 677.7L295.2 675.0L297.6 675.0L299.2 677.7L299.2 697.9L306.0 697.9L306.0 683.5L307.4 681.0L309.6 681.0L311.0 683.5L311.0 690.5L317.0 690.5L317.0 694.9L318.3 692.6L320.3 692.6L321.6 694.9L321.6 692.3L328.3 692.3L328.3 680.1L329.8 677.5L332.1 677.5L333.5 680.1L333.5 688.4L338.2 688.4L338.2 687.9L339.7 685.2L342.1 685.2L343.5 687.9L343.5 687.9L349.0 687.9L349.0 680.0L350.4 677.5L352.6 677.5L354.0 680.0L354.0 682.1L359.2 682.1L359.2 679.3L360.3 677.2L362.2 677.2L363.3 679.3L363.3 677.9L367.4 677.9L367.4 669.5L368.5 667.5L370.3 667.5L371.5 669.5L371.5 684.6L378.1 684.6L378.1 680.2L379.7 677.5L382.0 677.5L383.6 680.2L383.6 673.8L388.8 673.8L388.8 664.9L390.2 662.5L392.3 662.5L393.6 664.9L393.6 674.0L399.2 674.0L399.2 675.4L400.3 673.5L402.0 673.5L403.1 675.4L403.1 678.4L409.9 678.4L409.9 665.1L410.9 663.3L412.5 663.3L413.5 665.1L413.5 662.2L419.6 662.2L419.6 651.9L420.6 650.0L422.4 650.0L423.4 651.9L423.4 658.2L429.5 658.2L429.5 644.6L430.9 642.2L433.0 642.2L434.4 644.6L434.4 616.6L435.8 614.0L438.1 614.0L439.6 616.6L439.6 646.7L443.5 646.7L443.5 650.9L444.9 648.3L447.2 648.3L448.7 650.9L448.7 647.6L450.2 645.0L452.5 645.0L453.9 647.6L453.9 654.4L458.9 654.4L458.9 649.9L459.9 648.1L461.5 648.1L462.5 649.9L462.5 639.5L466.6 639.5L466.6 621.0L467.6 619.1L469.2 619.1L470.3 621.0L470.3 608.6L473.8 608.6L473.8 594.3L474.8 592.5L476.4 592.5L477.4 594.3L477.4 625.5L481.8 625.5L481.8 609.0L482.9 607.1L484.5 607.1L485.6 609.0L485.6 598.1L486.8 596.0L488.7 596.0L489.9 598.1L489.9 626.2L493.5 626.2L493.5 616.7L494.6 614.8L496.3 614.8L497.3 616.7L497.3 604.9L498.6 602.5L500.7 602.5L502.1 604.9L502.1 633.2L508.2 633.2L508.2 588.1L509.3 586.0L511.2 586.0L512.3 588.1L512.3 609.8L515.9 609.8L515.9 614.5L517.3 611.9L519.6 611.9L521.0 614.5L521.0 612.5L527.6 612.5L527.6 593.6L529.1 591.0L531.4 591.0L532.8 593.6L532.8 605.5L538.8 605.5L538.8 610.3L539.9 608.3L541.7 608.3L542.8 610.3L542.8 608.2L547.4 608.2L547.4 605.4L548.6 603.2L550.5 603.2L551.8 605.4L551.8 605.4L555.7 605.4L555.7 600.3L556.9 598.1L558.8 598.1L560.0 600.3L560.0 600.2L564.0 600.2L564.0 588.4L565.1 586.4L566.9 586.4L568.0 588.4L568.0 583.6L573.0 583.6L573.0 578.3L574.3 576.0L576.3 576.0L577.6 578.3L577.6 591.5L581.6 591.5L581.6 591.9L582.6 590.1L584.2 590.1L585.2 591.9L585.2 574.5L589.0 574.5L589.0 553.3L590.3 551.0L592.3 551.0L593.5 553.3L593.5 592.2L600.5 592.2L600.5 601.7L602.0 598.9L604.4 598.9L606.0 601.7L606.0 599.5L611.0 599.5L611.0 584.8L612.3 582.5L614.4 582.5L615.7 584.8L615.7 593.6L621.4 593.6L621.4 592.2L622.8 589.7L624.9 589.7L626.3 592.2L626.3 592.1L631.3 592.1L631.3 585.5L632.3 583.8L633.8 583.8L634.8 585.5L634.8 582.9L635.8 581.0L637.5 581.0L638.5 582.9L638.5 591.8L644.5 591.8L644.5 588.6L645.6 586.8L647.2 586.8L648.2 588.6L648.2 566.0L649.3 564.0L651.1 564.0L652.2 566.0L652.2 592.6L657.5 592.6L657.5 602.3L658.7 600.2L660.5 600.2L661.6 602.3L661.6 611.2L665.9 611.2L665.9 590.2L667.4 587.5L669.8 587.5L671.3 590.2L671.3 599.4L677.3 599.4L677.3 607.6L678.6 605.4L680.6 605.4L681.9 607.6L681.9 600.6L685.5 600.6L685.5 583.3L686.8 581.0L688.8 581.0L690.1 583.3L690.1 601.6L694.2 601.6L694.2 612.4L695.7 609.9L697.9 609.9L699.3 612.4L699.3 606.9L704.6 606.9L704.6 588.4L706.0 586.0L708.0 586.0L709.4 588.4L709.4 598.5L713.9 598.5L713.9 600.3L715.1 598.1L716.9 598.1L718.1 600.3L718.1 612.3L724.0 612.3L724.0 627.0L725.2 624.9L727.0 624.9L728.1 627.0L728.1 624.8L734.0 624.8L734.0 614.9L735.2 612.7L737.2 612.7L738.4 614.9L738.4 607.0L739.5 605.0L741.2 605.0L742.3 607.0L742.3 612.7L747.9 612.7L747.9 615.2L749.0 613.2L750.8 613.2L751.9 615.2L751.9 631.1L758.7 631.1L758.7 642.9L760.1 640.4L762.3 640.4L763.7 642.9L763.7 645.3L769.2 645.3L769.2 602.2L770.5 600.0L772.4 600.0L773.6 602.2L773.6 625.8L779.8 625.8L779.8 638.7L780.8 636.8L782.5 636.8L783.5 638.7L783.5 646.1L787.3 646.1L787.3 614.9L788.7 612.5L790.8 612.5L792.1 614.9L792.1 639.3L799.0 639.3L799.0 640.1L799.9 638.4L801.5 638.4L802.5 640.1L802.5 646.0L808.7 646.0L808.7 647.4L810.0 645.2L812.0 645.2L813.2 647.4L813.2 657.7L818.3 657.7L818.3 658.7L819.4 656.7L821.2 656.7L822.4 658.7L822.4 658.4L827.5 658.4L827.5 649.3L829.0 646.8L831.2 646.8L832.6 649.3L832.6 644.1L839.1 644.1L839.1 637.0L840.2 635.0L841.9 635.0L843.0 637.0L843.0 656.0L848.2 656.0L848.2 664.4L849.5 662.2L851.4 662.2L852.6 664.4L852.6 666.1L859.3 666.1L859.3 656.6L860.7 654.0L863.0 654.0L864.4 656.6L864.4 666.0L868.3 666.0L868.3 668.9L869.8 666.2L872.2 666.2L873.8 668.9L873.8 665.1L878.7 665.1L878.7 656.8L879.8 655.0L881.4 655.0L882.4 656.8L882.4 672.5L889.0 672.5L889.0 642.4L890.4 640.0L892.5 640.0L893.8 642.4L893.8 678.4L897.8 678.4L897.8 680.4L898.9 678.4L900.6 678.4L901.7 680.4L901.7 685.4L907.6 685.4L907.6 651.3L908.9 649.0L910.9 649.0L912.2 651.3L912.2 678.5L916.1 678.5L916.1 682.7L917.6 680.0L920.0 680.0L921.5 682.7L921.5 685.5L925.3 685.5L925.3 677.3L926.7 674.8L928.9 674.8L930.2 677.3L930.2 664.7L931.5 662.5L933.4 662.5L934.7 664.7L934.7 690.5L940.6 690.5L940.6 687.8L942.2 685.1L944.6 685.1L946.1 687.8L946.1 678.6L951.6 678.6L951.6 674.7L952.8 672.5L954.8 672.5L956.0 674.7L956.0 695.4L959.6 695.4L959.6 680.4L961.1 677.7L963.4 677.7L964.9 680.4L964.9 672.2L966.1 670.0L968.1 670.0L969.3 672.2L969.3 697.6L974.3 697.6L974.3 700.7L975.8 698.0L978.1 698.0L979.6 700.7L979.6 709.2L984.8 709.2L984.8 707.7L985.9 705.6L987.8 705.6L988.9 707.7L988.9 714.1L994.7 714.1L994.7 705.1L996.2 702.5L998.5 702.5L999.9 705.1L999.9 701.2L1001.2 699.0L1003.0 699.0L1004.3 701.2L1004.3 706.9L1010.1 706.9L1010.1 701.4L1011.4 699.0L1013.5 699.0L1014.9 701.4L1014.9 713.7L1018.4 713.7L1018.4 718.7L1019.8 716.2L1021.9 716.2L1023.3 718.7L1023.3 725.6L1029.1 725.6L1029.1 715.8L1030.1 714.1L1031.6 714.1L1032.6 715.8L1032.6 715.6L1038.7 715.6L1038.7 712.7L1040.2 710.0L1042.5 710.0L1044.0 712.7L1044.0 710.1L1045.4 707.5L1047.7 707.5L1049.1 710.1L1049.1 724.0L1055.3 724.0L1055.3 727.6L1056.7 725.2L1058.9 725.2L1060.3 727.6L1060.3 734.6L1064.5 734.6L1064.5 729.3L1065.5 727.4L1067.2 727.4L1068.2 729.3L1068.2 727.0L1069.4 725.0L1071.1 725.0L1072.3 727.0L1072.3 740.6L1077.7 740.6L1077.7 709.5L1078.8 707.5L1080.5 707.5L1081.6 709.5L1081.6 714.3L1088.5 714.3L1088.5 735.1L1089.5 733.4L1091.1 733.4L1092.0 735.1L1092.0 737.2L1098.5 737.2L1098.5 706.5L1099.9 704.0L1102.1 704.0L1103.5 706.5L1103.5 735.9L1108.7 735.9L1108.7 727.1L1109.8 725.0L1111.7 725.0L1112.8 727.1L1112.8 733.4L1117.3 733.4L1117.3 733.5L1118.3 731.7L1119.8 731.7L1120.8 733.5L1120.8 737.5L1127.0 737.5L1127.0 729.8L1128.4 727.3L1130.6 727.3L1132.0 729.8L1132.0 725.4L1136.9 725.4L1136.9 715.0L1138.3 712.5L1140.5 712.5L1142.0 715.0L1142.0 730.8L1148.5 730.8L1148.5 705.9L1149.6 704.0L1151.2 704.0L1152.3 705.9L1152.3 734.0L1157.1 734.0L1157.1 730.0L1158.3 727.9L1160.1 727.9L1161.2 730.0L1161.2 733.4L1166.7 733.4L1166.7 709.2L1167.9 707.1L1169.7 707.1L1170.9 709.2L1170.9 692.2L1172.1 690.0L1174.1 690.0L1175.3 692.2L1175.3 736.4L1181.9 736.4L1181.9 737.9L1183.2 735.6L1185.3 735.6L1186.6 737.9L1186.6 736.8L1192.0 736.8L1192.0 726.8L1193.1 725.0L1194.7 725.0L1195.7 726.8L1195.7 729.9L1202.1 729.9L1202.1 727.4L1203.4 725.0L1205.5 725.0L1206.9 727.4L1206.9 735.2L1213.1 735.2L1213.1 736.0L1214.4 733.9L1216.2 733.9L1217.4 736.0L1217.4 734.5L1221.3 734.5L1221.3 724.6L1222.5 722.5L1224.3 722.5L1225.5 724.6L1225.5 731.1L1230.9 731.1L1230.9 729.7L1232.3 727.1L1234.6 727.1L1236.0 729.7L1236.0 732.3L1240.6 732.3L1240.6 731.5L1241.8 729.3L1243.8 729.3L1245.0 731.5L1245.0 737.7L1249.5 737.7L1249.5 730.1L1250.5 728.3L1252.1 728.3L1253.2 730.1L1253.2 728.1L1258.0 728.1L1258.0 721.1L1259.2 719.0L1261.0 719.0L1262.1 721.1L1262.1 725.0L1265.9 725.0L1265.9 722.6L1267.0 720.7L1268.7 720.7L1269.8 722.6L1269.8 733.6L1274.3 733.6L1274.3 736.0L1275.8 733.3L1278.1 733.3L1279.6 736.0L1279.6 732.7L1285.4 732.7L1285.4 724.3L1286.5 722.2L1288.3 722.2L1289.5 724.3L1289.5 720.9L1290.6 719.0L1292.3 719.0L1293.4 720.9L1293.4 726.8L1299.3 726.8L1299.3 729.7L1300.4 727.6L1302.3 727.6L1303.5 729.7L1303.5 739.4L1307.8 739.4L1307.8 735.7L1309.1 733.3L1311.2 733.3L1312.6 735.7L1312.6 731.1L1313.7 729.0L1315.6 729.0L1316.7 731.1L1316.7 742.7L1323.3 742.7L1323.3 742.8L1324.6 740.6L1326.6 740.6L1327.8 742.8L1327.8 737.8L1334.6 737.8L1334.6 726.5L1336.0 724.0L1338.2 724.0L1339.6 726.5L1339.6 726.7L1341.1 724.0L1343.5 724.0L1345.0 726.7L1345.0 744.2L1351.2 744.2L1351.2 737.5L1352.3 735.5L1354.1 735.5L1355.2 737.5L1355.2 733.1L1356.4 731.0L1358.3 731.0L1359.5 733.1L1359.5 743.6L1364.4 743.6L1364.4 730.2L1365.9 727.5L1368.3 727.5L1369.8 730.2L1369.8 737.6L1374.5 737.6L1374.5 740.1L1376.0 737.5L1378.3 737.5L1379.8 740.1L1379.8 738.1L1386.7 738.1L1386.7 733.1L1387.7 731.3L1389.2 731.3L1390.2 733.1L1390.2 731.7L1391.7 729.0L1394.1 729.0L1395.5 731.7L1395.5 749.5L1402.1 749.5L1402.1 742.3L1403.4 740.1L1405.3 740.1L1406.5 742.3L1406.5 738.6L1408.0 736.0L1410.2 736.0L1411.7 738.6L1411.7 744.4L1416.5 744.4L1416.5 736.5L1417.9 734.2L1420.0 734.2L1421.3 736.5L1421.3 730.2L1422.8 727.5L1425.2 727.5L1426.7 730.2L1426.7 742.2L1430.5 742.2L1430.5 743.7L1431.6 741.8L1433.3 741.8L1434.4 743.7L1434.4 742.3L1439.4 742.3L1439.4 734.6L1440.6 732.5L1442.4 732.5L1443.6 734.6L1443.6 739.0L1447.9 739.0L1447.9 740.3L1449.3 737.9L1451.3 737.9L1452.7 740.3L1452.7 747.4L1457.5 747.4L1457.5 740.0L1458.5 738.2L1460.1 738.2L1461.1 740.0L1461.1 734.7L1462.3 732.5L1464.2 732.5L1465.4 734.7L1465.4 740.6L1471.7 740.6L1471.7 746.4L1472.9 744.1L1474.9 744.1L1476.2 746.4L1476.2 748.7L1480.9 748.7L1480.9 743.0L1482.2 740.6L1484.3 740.6L1485.6 743.0L1485.6 733.1L1486.8 731.0L1488.7 731.0L1489.9 733.1L1489.9 737.3L1495.1 737.3L1495.1 734.7L1496.2 732.7L1498.0 732.7L1499.2 734.7L1499.2 737.2L1504.8 737.2L1504.8 733.3L1506.1 731.0L1508.1 731.0L1509.4 733.3L1509.4 750.3L1516.3 750.3L1516.3 741.7L1517.8 739.1L1520.0 739.1L1521.5 741.7L1521.5 733.3L1522.8 731.0L1524.8 731.0L1526.0 733.3L1526.0 742.3L1529.7 742.3L1529.7 747.2L1531.2 744.4L1533.7 744.4L1535.2 747.2L1535.2 756.6L1542.0 756.6L1542.0 750.8L1543.5 748.1L1545.8 748.1L1547.3 750.8L1547.3 740.0L1548.7 737.5L1551.0 737.5L1552.4 740.0L1552.4 744.7L1555.9 744.7L1555.9 745.5L1557.1 743.4L1559.0 743.4L1560.1 745.5L1560.1 735.4L1561.5 733.0L1563.6 733.0L1565.0 735.4L1565.0 746.6L1568.8 746.6L1568.8 748.3L1570.1 745.9L1572.2 745.9L1573.6 748.3L1573.6 754.0L1580.2 754.0L1580.2 747.4L1581.5 745.2L1583.5 745.2L1584.7 747.4L1584.7 744.8L1588.7 744.8L1588.7 736.6L1589.7 734.8L1591.3 734.8L1592.3 736.6L1592.3 734.6L1593.7 732.0L1596.0 732.0L1597.5 734.6L1597.5 752.3L1602.8 752.3L1602.8 748.6L1604.3 746.0L1606.6 746.0L1608.0 748.6L1608.0 739.4L1609.1 737.5L1610.7 737.5L1611.8 739.4L1611.8 741.6L1615.7 741.6L1615.7 739.6L1616.8 737.6L1618.5 737.6L1619.6 739.6L1619.6 742.8L1623.9 742.8L1623.9 739.9L1625.2 737.5L1627.3 737.5L1628.6 739.9L1628.6 756.7L1635.1 756.7L1635.1 755.0L1636.5 752.5L1638.7 752.5L1640.1 755.0L1640.1 750.5L1646.8 750.5L1646.8 737.9L1647.8 736.0L1649.4 736.0L1650.5 737.9L1650.5 746.2L1656.8 746.2L1656.8 746.7L1657.9 744.8L1659.7 744.8L1660.8 746.7L1660.8 750.0L1665.3 750.0L1665.3 746.7L1666.5 744.5L1668.4 744.5L1669.7 746.7L1669.7 745.1L1671.1 742.5L1673.4 742.5L1674.8 745.1L1674.8 744.7L1676.0 742.5L1678.0 742.5L1679.2 744.7L1679.2 754.0L1683.7 754.0L1683.7 735.2L1685.3 732.5L1687.7 732.5L1689.2 735.2L1689.2 743.8L1693.5 743.8L1693.5 749.1L1694.9 746.6L1697.0 746.6L1698.4 749.1L1698.4 757.5L1702.0 757.5L1702.0 750.4L1703.1 748.5L1704.8 748.5L1705.9 750.4L1705.9 744.9L1707.3 742.5L1709.4 742.5L1710.7 744.9L1710.7 753.2L1716.4 753.2L1716.4 735.0L1717.8 732.5L1719.9 732.5L1721.3 735.0L1721.3 739.8L1726.5 739.8L1726.5 746.4L1727.9 743.9L1730.1 743.9L1731.5 746.4L1731.5 749.3L1737.9 749.3L1737.9 742.6L1738.9 740.8L1740.5 740.8L1741.5 742.6L1741.5 744.7L1745.4 744.7L1745.4 738.4L1746.7 736.1L1748.7 736.1L1750.0 738.4L1750.0 740.0L1756.8 740.0L1756.8 733.0L1758.3 730.4L1760.6 730.4L1762.1 733.0L1762.1 729.5L1763.2 727.5L1764.9 727.5L1766.0 729.5L1766.0 740.3L1772.4 740.3L1772.4 741.3L1773.6 739.3L1775.3 739.3L1776.5 741.3L1776.5 742.9L1782.0 742.9L1782.0 739.7L1783.2 737.5L1785.1 737.5L1786.3 739.7L1786.3 744.0L1792.3 744.0L1792.3 742.1L1793.7 739.7L1795.8 739.7L1797.1 742.1L1797.1 742.8L1803.1 742.8L1803.1 736.9L1804.6 734.2L1806.9 734.2L1808.4 736.9L1808.4 736.4L1813.1 736.4L1813.1 729.6L1814.3 727.5L1816.2 727.5L1817.4 729.6L1817.4 741.9L1822.7 741.9L1822.7 738.8L1823.8 736.9L1825.5 736.9L1826.6 738.8L1826.6 730.0L1828.0 727.5L1830.3 727.5L1831.7 730.0L1831.7 729.7L1832.9 727.5L1834.9 727.5L1836.1 729.7L1836.1 733.2L1840.8 733.2L1840.8 729.9L1841.9 727.9L1843.7 727.9L1844.8 729.9L1844.8 729.4L1845.9 727.5L1847.6 727.5L1848.7 729.4L1848.7 748.2L1853.8 748.2L1853.8 746.1L1855.0 744.0L1856.8 744.0L1858.0 746.1L1858.0 745.1L1859.4 742.5L1861.7 742.5L1863.2 745.1L1863.2 753.3L1867.5 753.3L1867.5 744.2L1868.8 741.8L1870.9 741.8L1872.3 744.2L1872.3 738.1L1873.4 736.0L1875.2 736.0L1876.4 738.1L1876.4 752.5L1880.6 752.5L1880.6 748.7L1881.8 746.6L1883.6 746.6L1884.7 748.7L1884.7 745.5L1891.3 745.5L1891.3 714.6L1892.4 712.5L1894.2 712.5L1895.4 714.6L1895.4 747.7L1900.0 747.7L1900.0 747.5L1901.4 745.0L1903.6 745.0L1904.9 747.5L1904.9 746.0L1910.0 746.0L1910.0 738.6L1911.4 736.0L1913.7 736.0L1915.2 738.6L1915.2 748.4L1918.7 748.4L1918.7 746.9L1919.8 745.1L1921.4 745.1L1922.5 746.9L1922.5 748.1L1928.1 748.1L1928.1 744.0L1929.1 742.2L1930.7 742.2L1931.7 744.0L1931.7 745.8L1938.4 745.8L1938.4 741.8L1939.7 739.6L1941.7 739.6L1942.9 741.8L1942.9 736.4L1949.6 736.4L1949.6 726.0L1950.8 724.0L1952.6 724.0L1953.7 726.0L1953.7 751.4L1960.6 751.4L1960.6 743.3L1961.7 741.3L1963.4 741.3L1964.5 743.3L1964.5 739.8L1965.8 737.5L1967.9 737.5L1969.2 739.8L1969.2 748.2L1975.2 748.2L1975.2 741.2L1976.3 739.2L1978.0 739.2L1979.1 741.2L1979.1 742.2L1982.8 742.2L1982.8 734.4L1983.9 732.5L1985.6 732.5L1986.6 734.4L1986.6 744.5L1992.3 744.5L1992.3 750.9L1993.5 748.7L1995.4 748.7L1996.7 750.9L1996.7 754.2L2001.5 754.2L2001.5 752.2L2002.7 750.1L2004.6 750.1L2005.8 752.2L2005.8 753.0L2010.1 753.0L2010.1 742.6L2011.5 740.0L2013.8 740.0L2015.2 742.6L2015.2 749.0L2019.0 749.0L2019.0 746.4L2020.4 744.0L2022.5 744.0L2023.9 746.4L2023.9 752.5L2029.9 752.5L2029.9 759.2L2031.1 756.9L2033.1 756.9L2034.4 759.2L2034.4 766.9L2039.7 766.9L2039.7 761.9L2041.1 759.3L2043.3 759.3L2044.7 761.9L2044.7 761.7L2050.7 761.7L2050.7 753.6L2051.8 751.6L2053.5 751.6L2054.6 753.6L2054.6 751.9L2055.7 750.0L2057.4 750.0L2058.4 751.9L2058.4 758.6L2062.4 758.6L2062.4 755.3L2063.7 753.0L2065.7 753.0L2067.0 755.3L2067.0 745.2L2068.5 742.5L2070.9 742.5L2072.4 745.2L2072.4 754.0L2076.2 754.0L2076.2 757.4L2077.2 755.6L2078.9 755.6L2079.9 757.4L2079.9 760.8L2084.9 760.8L2084.9 758.1L2086.1 756.0L2087.9 756.0L2089.0 758.1L2089.0 760.6L2094.2 760.6L2094.2 749.2L2095.4 747.1L2097.2 747.1L2098.4 749.2L2098.4 736.4L2099.7 734.0L2101.8 734.0L2103.1 736.4L2103.1 736.5L2104.5 734.0L2106.8 734.0L2108.2 736.5L2108.2 752.9L2113.0 752.9L2113.0 750.3L2114.3 747.9L2116.4 747.9L2117.7 750.3L2117.7 754.0L2124.4 754.0L2124.4 755.0L2125.9 752.3L2128.3 752.3L2129.8 755.0L2129.8 754.3L2134.5 754.3L2134.5 744.3L2135.5 742.5L2137.0 742.5L2138.0 744.3L2138.0 758.7L2143.9 758.7L2143.9 761.2L2145.2 758.7L2147.4 758.7L2148.8 761.2L2148.8 761.8L2152.6 761.8L2152.6 759.0L2153.9 756.6L2156.0 756.6L2157.3 759.0L2157.3 757.5L2158.7 755.0L2160.9 755.0L2162.4 757.5L2162.4 763.8L2166.4 763.8L2166.4 769.7L2167.7 767.4L2169.8 767.4L2171.1 769.7L2171.1 770.8L2177.5 770.8L2177.5 764.2L2178.7 762.1L2180.5 762.1L2181.6 764.2L2181.6 761.1L2185.2 761.1L2185.2 756.3L2186.7 753.7L2188.9 753.7L2190.3 756.3L2190.3 748.7L2191.8 746.0L2194.2 746.0L2195.6 748.7L2195.6 754.4L2199.5 754.4L2199.5 752.4L2200.5 750.5L2202.1 750.5L2203.2 752.4L2203.2 755.7L2207.3 755.7L2207.3 754.1L2208.5 752.0L2210.4 752.0L2211.6 754.1L2211.6 755.6L2216.1 755.6L2216.1 750.2L2217.1 748.4L2218.7 748.4L2219.7 750.2L2219.7 748.2L2220.9 746.0L2222.8 746.0L2224.0 748.2L2224.0 754.0L2230.7 754.0L2230.7 756.2L2232.0 754.1L2233.9 754.1L2235.1 756.2L2235.1 763.1L2239.9 763.1L2239.9 759.4L2241.2 757.1L2243.2 757.1L2244.5 759.4L2244.5 762.4L2249.6 762.4L2249.6 760.8L2251.1 758.1L2253.5 758.1L2255.0 760.8L2255.0 756.7L2260.7 756.7L2260.7 752.3L2262.1 750.0L2264.1 750.0L2265.4 752.3L2265.4 755.1L2269.4 755.1L2269.4 753.2L2270.4 751.4L2271.9 751.4L2272.9 753.2L2272.9 752.4L2274.3 750.0L2276.4 750.0L2277.7 752.4L2277.7 760.3L2283.2 760.3L2283.2 762.6L2284.4 760.4L2286.4 760.4L2287.6 762.6L2287.6 766.0L2292.6 766.0L2292.6 766.3L2293.7 764.3L2295.4 764.3L2296.5 766.3L2296.5 771.9L2303.3 771.9L2303.3 761.8L2304.7 759.4L2306.8 759.4L2308.1 761.8L2308.1 761.1L2312.6 761.1L2312.6 753.1L2314.2 750.4L2316.6 750.4L2318.1 753.1L2318.1 748.4L2319.5 746.0L2321.6 746.0L2323.0 748.4L2323.0 748.5L2324.3 746.0L2326.5 746.0L2327.9 748.5L2327.9 763.7L2332.7 763.7L2332.7 758.7L2333.9 756.5L2335.8 756.5L2337.1 758.7L2337.1 758.2L2342.5 758.2L2342.5 752.2L2343.8 750.0L2345.7 750.0L2347.0 752.2L2347.0 763.8L2353.8 763.8L2353.8 761.5L2355.0 759.4L2356.9 759.4L2358.1 761.5L2358.1 757.5L2359.5 755.0L2361.7 755.0L2363.1 757.5L2363.1 770.2L2368.9 770.2L2368.9 767.0L2369.9 765.1L2371.6 765.1L2372.6 767.0L2372.6 765.5L2378.3 765.5L2378.3 759.6L2379.8 756.9L2382.2 756.9L2383.7 759.6L2383.7 753.2L2388.6 753.2L2388.6 743.5L2390.0 741.0L2392.2 741.0L2393.6 743.5L2393.6 765.4L2399.6 765.4L2399.6 764.8L2401.0 762.2L2403.3 762.2L2404.7 764.8L2404.7 768.5L2408.7 768.5L2408.7 762.1L2410.0 759.7L2412.1 759.7L2413.5 762.1L2413.5 756.3L2414.8 754.0L2416.7 754.0L2418.0 756.3L2418.0 793.5L2417.2 795.0L2415.8 795.0L2415.0 793.5L2415.0 788.2L2410.7 788.2L2410.7 787.3L2409.7 789.1L2408.0 789.1L2406.9 787.3L2406.9 782.7L2400.2 782.7L2400.2 784.3L2399.0 786.5L2397.1 786.5L2395.9 784.3L2395.9 781.7L2390.8 781.7L2390.8 787.5L2389.4 790.0L2387.3 790.0L2385.9 787.5L2385.9 787.7L2384.6 790.0L2382.5 790.0L2381.2 787.7L2381.2 784.7L2379.7 787.3L2377.5 787.3L2376.0 784.7L2376.0 782.6L2369.9 782.6L2369.9 786.2L2368.6 788.6L2366.5 788.6L2365.1 786.2L2365.1 786.1L2359.2 786.1L2359.2 792.8L2357.9 795.0L2356.0 795.0L2354.7 792.8L2354.7 787.2L2353.3 789.8L2351.1 789.8L2349.7 787.2L2349.7 782.9L2344.5 782.9L2344.5 786.8L2343.5 788.5L2341.9 788.5L2340.9 786.8L2340.9 785.8L2335.0 785.8L2335.0 793.7L2333.8 796.0L2331.8 796.0L2330.5 793.7L2330.5 794.1L2329.4 796.0L2327.8 796.0L2326.8 794.1L2326.8 787.5L2325.2 790.2L2322.9 790.2L2321.3 787.5L2321.3 778.8L2315.6 778.8L2315.6 785.6L2314.7 787.4L2313.1 787.4L2312.1 785.6L2312.1 789.4L2308.2 789.4L2308.2 798.8L2306.9 801.0L2305.0 801.0L2303.8 798.8L2303.8 799.0L2302.7 801.0L2300.9 801.0L2299.8 799.0L2299.8 789.3L2298.6 791.4L2296.8 791.4L2295.6 789.3L2295.6 783.0L2292.1 783.0L2292.1 783.0L2290.8 785.3L2288.8 785.3L2287.5 783.0L2287.5 779.5L2281.3 779.5L2281.3 783.7L2280.2 785.8L2278.4 785.8L2277.3 783.7L2277.3 781.8L2271.3 781.8L2271.3 785.5L2270.2 787.5L2268.5 787.5L2267.4 785.5L2267.4 783.3L2266.1 785.6L2264.1 785.6L2262.8 783.3L2262.8 781.2L2258.5 781.2L2258.5 784.0L2257.1 786.6L2254.8 786.6L2253.4 784.0L2253.4 786.8L2248.4 786.8L2248.4 796.9L2247.2 799.0L2245.4 799.0L2244.2 796.9L2244.2 790.1L2238.2 790.1L2238.2 787.8L2237.1 789.8L2235.3 789.8L2234.2 787.8L2234.2 783.4L2230.4 783.4L2230.4 783.6L2229.2 785.8L2227.2 785.8L2226.0 783.6L2226.0 779.0L2221.9 779.0L2221.9 782.4L2220.5 784.9L2218.2 784.9L2216.8 782.4L2216.8 782.5L2210.5 782.5L2210.5 783.9L2209.2 786.2L2207.1 786.2L2205.8 783.9L2205.8 781.9L2200.1 781.9L2200.1 786.9L2198.9 789.0L2197.1 789.0L2195.9 786.9L2195.9 784.5L2189.8 784.5L2189.8 790.7L2188.6 792.8L2186.7 792.8L2185.5 790.7L2185.5 791.1L2180.1 791.1L2180.1 795.7L2179.1 797.5L2177.5 797.5L2176.6 795.7L2176.6 787.0L2175.3 789.2L2173.3 789.2L2172.1 787.0L2172.1 780.1L2166.0 780.1L2166.0 781.0L2165.0 782.8L2163.5 782.8L2162.5 781.0L2162.5 776.0L2158.2 776.0L2158.2 777.3L2157.0 779.3L2155.2 779.3L2154.1 777.3L2154.1 773.8L2148.2 773.8L2148.2 776.3L2146.9 778.6L2144.9 778.6L2143.6 776.3L2143.6 774.5L2138.1 774.5L2138.1 777.0L2136.6 779.6L2134.3 779.6L2132.9 777.0L2132.9 777.5L2127.0 777.5L2127.0 781.7L2125.6 784.2L2123.3 784.2L2121.9 781.7L2121.9 788.0L2116.0 788.0L2116.0 792.6L2114.7 795.0L2112.5 795.0L2111.2 792.6L2111.2 783.4L2110.1 785.3L2108.5 785.3L2107.4 783.4L2107.4 775.3L2102.1 775.3L2102.1 779.5L2100.6 782.1L2098.3 782.1L2096.8 779.5L2096.8 782.6L2091.5 782.6L2091.5 792.8L2090.2 795.0L2088.3 795.0L2087.1 792.8L2087.1 791.4L2085.6 794.1L2083.2 794.1L2081.7 791.4L2081.7 789.9L2075.5 789.9L2075.5 792.6L2074.2 795.0L2072.1 795.0L2070.8 792.6L2070.8 784.4L2069.6 786.4L2067.8 786.4L2066.7 784.4L2066.7 776.3L2060.2 776.3L2060.2 780.6L2059.0 782.6L2057.2 782.6L2056.0 780.6L2056.0 780.4L2050.7 780.4L2050.7 784.5L2049.2 787.2L2046.9 787.2L2045.4 784.5L2045.4 783.9L2041.1 783.9L2041.1 786.4L2039.6 789.0L2037.4 789.0L2036.0 786.4L2036.0 781.0L2034.9 782.9L2033.2 782.9L2032.1 781.0L2032.1 778.0L2028.4 778.0L2028.4 776.1L2026.9 778.7L2024.6 778.7L2023.1 776.1L2023.1 775.4L2018.5 775.4L2018.5 778.0L2017.4 780.0L2015.6 780.0L2014.5 778.0L2014.5 775.4L2013.0 778.1L2010.6 778.1L2009.1 775.4L2009.1 770.3L2003.2 770.3L2003.2 774.0L2001.9 776.3L1999.9 776.3L1998.7 774.0L1998.7 768.6L1994.3 768.6L1994.3 771.8L1992.8 774.4L1990.5 774.4L1989.0 771.8L1989.0 774.4L1983.0 774.4L1983.0 785.3L1981.8 787.5L1979.9 787.5L1978.7 785.3L1978.7 773.9L1973.4 773.9L1973.4 776.6L1972.1 778.8L1970.2 778.8L1969.0 776.6L1969.0 774.0L1964.0 774.0L1964.0 773.7L1962.7 776.1L1960.5 776.1L1959.2 773.7L1959.2 768.1L1952.2 768.1L1952.2 772.4L1951.1 774.5L1949.3 774.5L1948.1 772.4L1948.1 772.0L1943.2 772.0L1943.2 775.6L1942.1 777.5L1940.5 777.5L1939.5 775.6L1939.5 775.2L1938.2 777.5L1936.1 777.5L1934.8 775.2L1934.8 773.6L1933.4 776.1L1931.2 776.1L1929.8 773.6L1929.8 771.4L1923.5 771.4L1923.5 798.1L1922.5 800.0L1920.8 800.0L1919.7 798.1L1919.7 785.6L1918.2 788.2L1915.9 788.2L1914.4 785.6L1914.4 775.2L1910.0 775.2L1910.0 777.2L1908.9 779.2L1907.1 779.2L1906.0 777.2L1906.0 772.8L1900.1 772.8L1900.1 778.0L1899.0 780.0L1897.2 780.0L1896.1 778.0L1896.1 772.9L1894.8 775.3L1892.7 775.3L1891.3 772.9L1891.3 769.0L1885.0 769.0L1885.0 780.7L1884.0 782.5L1882.4 782.5L1881.4 780.7L1881.4 777.2L1880.4 778.9L1878.9 778.9L1877.9 777.2L1877.9 770.8L1873.7 770.8L1873.7 770.9L1872.4 773.3L1870.3 773.3L1868.9 770.9L1868.9 767.0L1863.7 767.0L1863.7 772.4L1862.3 775.0L1860.0 775.0L1858.6 772.4L1858.6 769.3L1854.1 769.3L1854.1 774.8L1852.9 777.0L1851.0 777.0L1849.7 774.8L1849.7 774.9L1845.9 774.9L1845.9 780.1L1844.6 782.5L1842.4 782.5L1841.1 780.1L1841.1 774.6L1836.2 774.6L1836.2 777.9L1834.9 780.1L1832.9 780.1L1831.7 777.9L1831.7 768.7L1826.8 768.7L1826.8 770.1L1825.5 772.3L1823.6 772.3L1822.4 770.1L1822.4 773.3L1816.8 773.3L1816.8 781.7L1815.6 784.0L1813.6 784.0L1812.3 781.7L1812.3 774.4L1807.9 774.4L1807.9 774.0L1806.6 776.3L1804.6 776.3L1803.3 774.0L1803.3 777.6L1798.9 777.6L1798.9 788.4L1797.4 791.0L1795.2 791.0L1793.7 788.4L1793.7 777.4L1789.2 777.4L1789.2 776.9L1788.2 778.7L1786.5 778.7L1785.5 776.9L1785.5 777.6L1778.8 777.6L1778.8 782.9L1777.6 785.0L1775.7 785.0L1774.5 782.9L1774.5 783.2L1773.5 785.0L1771.9 785.0L1770.9 783.2L1770.9 770.7L1769.5 773.1L1767.4 773.1L1766.1 770.7L1766.1 770.2L1762.5 770.2L1762.5 773.4L1761.0 776.1L1758.6 776.1L1757.1 773.4L1757.1 772.7L1752.6 772.7L1752.6 778.2L1751.3 780.6L1749.2 780.6L1747.9 778.2L1747.9 777.6L1743.0 777.6L1743.0 781.3L1741.5 784.0L1739.1 784.0L1737.6 781.3L1737.6 774.4L1736.2 777.0L1733.9 777.0L1732.4 774.4L1732.4 776.2L1727.8 776.2L1727.8 787.5L1726.3 790.0L1724.1 790.0L1722.7 787.5L1722.7 776.6L1721.3 779.1L1719.1 779.1L1717.8 776.6L1717.8 774.2L1711.4 774.2L1711.4 784.0L1710.3 786.0L1708.5 786.0L1707.4 784.0L1707.4 775.5L1702.0 775.5L1702.0 772.4L1700.8 774.6L1698.9 774.6L1697.7 772.4L1697.7 774.1L1691.7 774.1L1691.7 782.6L1690.4 785.0L1688.3 785.0L1687.0 782.6L1687.0 771.2L1680.8 771.2L1680.8 783.2L1679.8 785.0L1678.2 785.0L1677.2 783.2L1677.2 779.0L1671.6 779.0L1671.6 777.8L1670.2 780.4L1667.9 780.4L1666.5 777.8L1666.5 778.2L1660.5 778.2L1660.5 782.3L1659.0 785.0L1656.6 785.0L1655.1 782.3L1655.1 779.3L1654.1 781.1L1652.5 781.1L1651.5 779.3L1651.5 771.6L1645.9 771.6L1645.9 770.6L1644.7 772.7L1642.8 772.7L1641.6 770.6L1641.6 768.4L1636.0 768.4L1636.0 770.8L1634.6 773.3L1632.3 773.3L1630.9 770.8L1630.9 775.1L1626.8 775.1L1626.8 783.1L1625.7 785.0L1624.1 785.0L1623.0 783.1L1623.0 775.1L1621.7 777.5L1619.6 777.5L1618.3 775.1L1618.3 768.8L1614.2 768.8L1614.2 771.4L1612.9 773.6L1611.0 773.6L1609.8 771.4L1609.8 773.9L1603.4 773.9L1603.4 777.7L1602.1 780.0L1600.1 780.0L1598.8 777.7L1598.8 772.9L1597.6 775.1L1595.7 775.1L1594.5 772.9L1594.5 778.2L1587.7 778.2L1587.7 788.3L1586.2 791.0L1583.8 791.0L1582.3 788.3L1582.3 768.0L1576.9 768.0L1576.9 777.8L1575.7 780.0L1573.7 780.0L1572.5 777.8L1572.5 774.0L1571.0 776.6L1568.8 776.6L1567.3 774.0L1567.3 770.9L1563.1 770.9L1563.1 772.7L1562.0 774.7L1560.2 774.7L1559.0 772.7L1559.0 773.3L1552.5 773.3L1552.5 776.7L1551.3 779.0L1549.2 779.0L1547.9 776.7L1547.9 769.0L1544.1 769.0L1544.1 768.9L1542.9 771.1L1540.9 771.1L1539.7 768.9L1539.7 770.3L1533.5 770.3L1533.5 777.0L1532.4 779.0L1530.6 779.0L1529.5 777.0L1529.5 769.1L1523.1 769.1L1523.1 772.1L1522.1 773.9L1520.5 773.9L1519.5 772.1L1519.5 766.1L1515.5 766.1L1515.5 771.7L1514.1 774.2L1511.9 774.2L1510.5 771.7L1510.5 773.4L1505.7 773.4L1505.7 778.5L1504.3 781.0L1502.1 781.0L1500.8 778.5L1500.8 773.4L1499.3 776.1L1497.0 776.1L1495.5 773.4L1495.5 767.9L1491.4 767.9L1491.4 765.9L1490.0 768.6L1487.7 768.6L1486.2 765.9L1486.2 763.8L1479.2 763.8L1479.2 769.4L1477.8 771.9L1475.6 771.9L1474.2 769.4L1474.2 775.3L1470.3 775.3L1470.3 782.8L1469.1 785.0L1467.2 785.0L1466.0 782.8L1466.0 772.3L1465.0 774.1L1463.4 774.1L1462.4 772.3L1462.4 764.1L1456.6 764.1L1456.6 776.8L1455.4 779.0L1453.5 779.0L1452.3 776.8L1452.3 769.3L1451.0 771.8L1448.8 771.8L1447.4 769.3L1447.4 767.8L1441.4 767.8L1441.4 776.8L1440.2 779.0L1438.2 779.0L1437.0 776.8L1437.0 768.6L1430.7 768.6L1430.7 782.9L1429.5 785.0L1427.7 785.0L1426.5 782.9L1426.5 775.7L1425.3 777.9L1423.4 777.9L1422.1 775.7L1422.1 761.6L1417.9 761.6L1417.9 772.0L1416.7 774.1L1414.8 774.1L1413.6 772.0L1413.6 772.8L1407.9 772.8L1407.9 779.0L1406.8 781.0L1405.0 781.0L1403.9 779.0L1403.9 778.4L1402.4 781.0L1400.1 781.0L1398.7 778.4L1398.7 763.2L1397.6 765.2L1395.9 765.2L1394.8 763.2L1394.8 761.7L1388.3 761.7L1388.3 763.6L1387.1 765.6L1385.3 765.6L1384.2 763.6L1384.2 763.1L1380.4 763.1L1380.4 772.9L1379.3 775.0L1377.5 775.0L1376.3 772.9L1376.3 770.5L1374.8 773.1L1372.6 773.1L1371.1 770.5L1371.1 768.8L1365.3 768.8L1365.3 772.8L1364.1 775.0L1362.2 775.0L1360.9 772.8L1360.9 769.8L1359.9 771.6L1358.2 771.6L1357.2 769.8L1357.2 767.1L1353.6 767.1L1353.6 765.9L1352.6 767.7L1351.0 767.7L1349.9 765.9L1349.9 762.6L1345.4 762.6L1345.4 765.7L1343.9 768.3L1341.7 768.3L1340.3 765.7L1340.3 767.1L1335.8 767.1L1335.8 778.7L1334.5 781.0L1332.5 781.0L1331.2 778.7L1331.2 772.8L1330.2 774.6L1328.6 774.6L1327.6 772.8L1327.6 762.4L1320.9 762.4L1320.9 763.6L1319.8 765.5L1318.1 765.5L1317.0 763.6L1317.0 763.5L1310.9 763.5L1310.9 778.3L1309.4 781.0L1307.0 781.0L1305.5 778.3L1305.5 761.3L1299.9 761.3L1299.9 761.4L1298.9 763.2L1297.2 763.2L1296.2 761.4L1296.2 764.6L1292.6 764.6L1292.6 771.4L1291.1 774.0L1288.8 774.0L1287.4 771.4L1287.4 766.1L1281.2 766.1L1281.2 762.8L1279.8 765.3L1277.6 765.3L1276.2 762.8L1276.2 762.7L1272.3 762.7L1272.3 783.2L1271.3 785.0L1269.7 785.0L1268.7 783.2L1268.7 783.2L1267.7 785.0L1266.1 785.0L1265.2 783.2L1265.2 762.7L1263.9 765.1L1261.8 765.1L1260.5 762.7L1260.5 768.8L1255.9 768.8L1255.9 776.9L1254.7 779.0L1252.9 779.0L1251.7 776.9L1251.7 772.0L1246.7 772.0L1246.7 771.1L1245.5 773.2L1243.7 773.2L1242.5 771.1L1242.5 768.3L1238.4 768.3L1238.4 767.9L1237.1 770.2L1235.0 770.2L1233.7 767.9L1233.7 764.1L1229.8 764.1L1229.8 765.2L1228.6 767.2L1226.9 767.2L1225.8 765.2L1225.8 760.3L1220.4 760.3L1220.4 762.1L1219.1 764.5L1217.0 764.5L1215.6 762.1L1215.6 757.3L1208.6 757.3L1208.6 763.8L1207.1 766.5L1204.7 766.5L1203.2 763.8L1203.2 767.0L1197.6 767.0L1197.6 771.7L1196.3 774.0L1194.4 774.0L1193.1 771.7L1193.1 774.0L1188.5 774.0L1188.5 778.2L1187.5 780.0L1186.0 780.0L1185.0 778.2L1185.0 773.5L1183.5 776.1L1181.3 776.1L1179.9 773.5L1179.9 770.9L1174.1 770.9L1174.1 769.9L1172.7 772.5L1170.4 772.5L1169.0 769.9L1169.0 767.7L1164.5 767.7L1164.5 767.7L1163.4 769.6L1161.7 769.6L1160.6 767.7L1160.6 761.9L1156.8 761.9L1156.8 762.0L1155.3 764.5L1153.1 764.5L1151.7 762.0L1151.7 759.1L1147.5 759.1L1147.5 773.4L1146.0 776.0L1143.7 776.0L1142.2 773.4L1142.2 767.1L1140.9 769.5L1138.8 769.5L1137.4 767.1L1137.4 757.7L1130.6 757.7L1130.6 759.8L1129.1 762.5L1126.7 762.5L1125.3 759.8L1125.3 758.1L1119.4 758.1L1119.4 760.1L1118.0 762.5L1115.9 762.5L1114.5 760.1L1114.5 758.8L1113.4 760.8L1111.7 760.8L1110.6 758.8L1110.6 754.6L1107.0 754.6L1107.0 754.3L1105.6 756.7L1103.4 756.7L1102.0 754.3L1102.0 753.7L1095.4 753.7L1095.4 761.9L1094.2 764.1L1092.3 764.1L1091.1 761.9L1091.1 764.9L1085.2 764.9L1085.2 773.6L1083.9 776.0L1081.8 776.0L1080.4 773.6L1080.4 767.2L1073.8 767.2L1073.8 764.4L1072.5 766.7L1070.4 766.7L1069.1 764.4L1069.1 763.1L1064.7 763.1L1064.7 763.3L1063.7 765.1L1062.1 765.1L1061.1 763.3L1061.1 750.1L1055.0 750.1L1055.0 749.6L1053.6 752.1L1051.4 752.1L1050.0 749.6L1050.0 751.4L1046.5 751.4L1046.5 755.6L1045.4 757.5L1043.8 757.5L1042.8 755.6L1042.8 751.7L1041.3 754.3L1039.0 754.3L1037.5 751.7L1037.5 745.7L1032.3 745.7L1032.3 746.5L1031.0 748.9L1028.8 748.9L1027.5 746.5L1027.5 738.7L1022.7 738.7L1022.7 740.4L1021.4 742.8L1019.4 742.8L1018.1 740.4L1018.1 739.8L1011.6 739.8L1011.6 750.3L1010.4 752.5L1008.5 752.5L1007.3 750.3L1007.3 744.6L1006.0 747.0L1003.8 747.0L1002.5 744.6L1002.5 748.0L996.6 748.0L996.6 763.1L995.5 765.0L993.8 765.0L992.8 763.1L992.8 747.6L987.9 747.6L987.9 742.0L986.7 744.2L984.8 744.2L983.6 742.0L983.6 732.9L979.9 732.9L979.9 731.8L978.6 734.2L976.4 734.2L975.1 731.8L975.1 732.8L968.2 732.8L968.2 737.9L967.0 740.0L965.1 740.0L963.9 737.9L963.9 734.5L962.7 736.7L960.8 736.7L959.5 734.5L959.5 730.1L952.7 730.1L952.7 742.0L951.5 744.0L949.7 744.0L948.6 742.0L948.6 735.8L947.2 738.4L944.9 738.4L943.5 735.8L943.5 732.3L936.8 732.3L936.8 741.8L935.6 744.0L933.7 744.0L932.5 741.8L932.5 729.6L928.9 729.6L928.9 726.1L927.8 728.1L926.0 728.1L924.9 726.1L924.9 723.3L919.6 723.3L919.6 732.4L918.2 735.0L915.9 735.0L914.5 732.4L914.5 720.7L913.0 723.3L910.7 723.3L909.2 720.7L909.2 708.6L903.1 708.6L903.1 714.2L902.0 716.2L900.2 716.2L899.0 714.2L899.0 717.2L892.4 717.2L892.4 732.7L891.1 735.0L889.1 735.0L887.8 732.7L887.8 720.4L886.7 722.3L884.9 722.3L883.8 720.4L883.8 707.9L877.7 707.9L877.7 718.7L876.5 721.0L874.5 721.0L873.2 718.7L873.2 712.8L866.9 712.8L866.9 712.3L865.8 714.2L864.1 714.2L863.0 712.3L863.0 705.7L857.8 705.7L857.8 708.0L856.2 710.7L853.8 710.7L852.3 708.0L852.3 707.0L845.4 707.0L845.4 710.0L844.0 712.5L841.8 712.5L840.4 710.0L840.4 700.8L839.3 702.7L837.7 702.7L836.6 700.8L836.6 688.2L831.4 688.2L831.4 689.0L830.0 691.5L827.7 691.5L826.3 689.0L826.3 686.5L821.2 686.5L821.2 689.1L819.7 691.8L817.3 691.8L815.8 689.1L815.8 693.9L812.1 693.9L812.1 698.9L810.9 701.0L809.1 701.0L807.9 698.9L807.9 695.9L806.6 698.2L804.6 698.2L803.3 695.9L803.3 698.1L796.9 698.1L796.9 723.1L795.9 725.0L794.2 725.0L793.1 723.1L793.1 693.2L791.6 695.8L789.4 695.8L787.9 693.2L787.9 683.2L782.9 683.2L782.9 682.9L781.5 685.4L779.3 685.4L777.8 682.9L777.8 682.5L773.5 682.5L773.5 687.8L772.4 689.8L770.6 689.8L769.5 687.8L769.5 686.9L765.4 686.9L765.4 690.4L764.3 692.5L762.5 692.5L761.3 690.4L761.3 676.5L760.3 678.2L758.8 678.2L757.8 676.5L757.8 673.5L751.4 673.5L751.4 680.1L750.0 682.5L747.9 682.5L746.5 680.1L746.5 674.1L745.3 676.3L743.4 676.3L742.2 674.1L742.2 679.2L738.3 679.2L738.3 692.1L737.2 694.0L735.6 694.0L734.5 692.1L734.5 678.9L728.1 678.9L728.1 661.5L726.6 664.2L724.2 664.2L722.7 661.5L722.7 671.3L718.4 671.3L718.4 680.4L717.2 682.5L715.4 682.5L714.2 680.4L714.2 661.8L709.8 661.8L709.8 661.9L708.5 664.2L706.5 664.2L705.2 661.9L705.2 666.2L700.5 666.2L700.5 673.0L699.3 675.0L697.6 675.0L696.5 673.0L696.5 656.0L691.6 656.0L691.6 647.4L690.5 649.4L688.7 649.4L687.6 647.4L687.6 647.7L683.0 647.7L683.0 655.2L681.7 657.5L679.7 657.5L678.4 655.2L678.4 647.5L672.7 647.5L672.7 647.4L671.7 649.3L670.0 649.3L668.9 647.4L668.9 652.8L662.5 652.8L662.5 668.2L661.4 670.0L659.8 670.0L658.8 668.2L658.8 657.0L657.7 659.0L655.9 659.0L654.8 657.0L654.8 644.4L648.6 644.4L648.6 639.8L647.4 641.9L645.5 641.9L644.3 639.8L644.3 631.4L640.7 631.4L640.7 633.8L639.2 636.5L636.8 636.5L635.3 633.8L635.3 640.5L630.6 640.5L630.6 650.1L629.2 652.5L627.1 652.5L625.8 650.1L625.8 643.8L621.1 643.8L621.1 646.2L619.7 648.6L617.6 648.6L616.3 646.2L616.3 648.7L611.2 648.7L611.2 659.1L610.2 661.0L608.4 661.0L607.4 659.1L607.4 656.1L606.3 658.0L604.5 658.0L603.4 656.1L603.4 646.6L597.9 646.6L597.9 645.0L596.9 646.8L595.3 646.8L594.2 645.0L594.2 648.7L587.6 648.7L587.6 662.7L586.4 665.0L584.3 665.0L583.0 662.7L583.0 663.1L581.9 665.0L580.3 665.0L579.2 663.1L579.2 659.5L577.7 662.2L575.4 662.2L573.9 659.5L573.9 662.4L570.0 662.4L570.0 677.3L568.5 680.0L566.1 680.0L564.6 677.3L564.6 662.9L563.4 665.0L561.6 665.0L560.5 662.9L560.5 658.9L554.6 658.9L554.6 672.3L553.1 675.0L550.7 675.0L549.2 672.3L549.2 654.9L547.8 657.4L545.6 657.4L544.2 654.9L544.2 651.7L538.1 651.7L538.1 657.2L537.1 658.9L535.6 658.9L534.6 657.2L534.6 657.4L529.2 657.4L529.2 659.3L527.8 661.8L525.6 661.8L524.2 659.3L524.2 659.9L519.5 659.9L519.5 676.6L518.1 679.0L516.1 679.0L514.7 676.6L514.7 676.3L513.2 679.0L510.8 679.0L509.3 676.3L509.3 663.9L507.9 666.5L505.7 666.5L504.2 663.9L504.2 663.7L500.3 663.7L500.3 669.6L498.8 672.3L496.5 672.3L495.0 669.6L495.0 674.9L488.5 674.9L488.5 693.6L487.2 696.0L485.1 696.0L483.7 693.6L483.7 688.9L478.0 688.9L478.0 693.6L476.7 696.0L474.6 696.0L473.3 693.6L473.3 694.1L472.2 696.0L470.5 696.0L469.4 694.1L469.4 682.8L468.4 684.6L466.9 684.6L465.9 682.8L465.9 685.8L460.7 685.8L460.7 692.7L459.7 694.6L458.0 694.6L457.0 692.7L457.0 699.0L452.8 699.0L452.8 714.9L451.3 717.5L449.0 717.5L447.5 714.9L447.5 707.8L443.0 707.8L443.0 702.0L441.7 704.3L439.7 704.3L438.4 702.0L438.4 705.2L434.7 705.2L434.7 718.8L433.4 721.0L431.5 721.0L430.2 718.8L430.2 709.7L428.7 712.5L426.3 712.5L424.8 709.7L424.8 696.9L418.2 696.9L418.2 699.4L417.1 701.4L415.4 701.4L414.4 699.4L414.4 698.3L410.4 698.3L410.4 706.2L409.1 708.6L407.1 708.6L405.8 706.2L405.8 722.7L399.2 722.7L399.2 738.2L398.2 740.0L396.7 740.0L395.7 738.2L395.7 726.3L390.8 726.3L390.8 726.8L389.7 728.8L388.0 728.8L386.9 726.8L386.9 719.2L383.1 719.2L383.1 720.5L381.7 723.0L379.6 723.0L378.2 720.5L378.2 726.1L374.2 726.1L374.2 741.5L372.8 744.0L370.6 744.0L369.2 741.5L369.2 732.1L367.7 734.8L365.3 734.8L363.8 732.1L363.8 719.5L359.6 719.5L359.6 725.6L358.4 727.7L356.6 727.7L355.4 725.6L355.4 732.7L350.5 732.7L350.5 743.1L349.4 745.0L347.7 745.0L346.7 743.1L346.7 720.6L341.1 720.6L341.1 737.4L339.6 740.0L337.3 740.0L335.9 737.4L335.9 731.9L330.3 731.9L330.3 733.7L328.9 736.2L326.8 736.2L325.4 733.7L325.4 732.9L321.0 732.9L321.0 740.6L319.9 742.5L318.2 742.5L317.2 740.6L317.2 735.6L316.1 737.6L314.3 737.6L313.2 735.6L313.2 734.6L307.9 734.6L307.9 746.0L306.7 748.3L304.7 748.3L303.5 746.0L303.5 746.4L298.0 746.4L298.0 754.9L296.6 757.5L294.3 757.5L292.8 754.9L292.8 745.8L291.5 748.1L289.4 748.1L288.1 745.8L288.1 741.7L282.6 741.7L282.6 755.1L281.3 757.5L279.2 757.5L277.8 755.1L277.8 742.3L270.9 742.3L270.9 739.8L269.7 742.0L267.7 742.0L266.5 739.8L266.5 744.8L262.8 744.8L262.8 777.5L261.4 780.0L259.2 780.0L257.9 777.5L257.9 748.9L256.9 750.7L255.3 750.7L254.3 748.9L254.3 739.3L249.3 739.3L249.3 742.3L247.8 745.0L245.4 745.0L243.9 742.3L243.9 736.9L238.3 736.9L238.3 736.5L237.2 738.6L235.3 738.6L234.2 736.5L234.2 728.5L230.1 728.5L230.1 728.8L228.7 731.2L226.7 731.2L225.3 728.8L225.3 735.1L218.5 735.1L218.5 748.1L217.5 750.0L215.9 750.0L214.8 748.1L214.8 747.8L213.6 749.9L211.7 749.9L210.5 747.8L210.5 743.5L204.7 743.5L204.7 747.4L203.2 750.0L200.9 750.0L199.4 747.4L199.4 725.0L193.6 725.0L193.6 742.8L192.4 745.0L190.5 745.0L189.3 742.8L189.3 736.5L182.6 736.5L182.6 735.7L181.2 738.2L178.9 738.2L177.5 735.7Z" fill="#000" stroke="#000" stroke-width="2.4" stroke-linejoin="round"/>
<path d="M177.5 929.8L183.1 929.8L188.8 930.1L194.4 928.6L200.0 928.8L205.0 934.3L210.0 938.0L215.0 936.9L220.0 936.2L225.0 935.3L230.3 934.0L235.7 932.5L241.0 929.9L247.0 932.3L253.0 933.2L259.0 934.5L265.0 935.1L270.0 932.7L275.0 931.1L281.7 930.9L288.3 933.9L295.0 934.6L301.2 931.8L307.5 929.0L313.3 931.5L319.2 933.7L325.0 936.0L331.7 936.3L338.3 937.4L345.0 938.1L351.7 937.7L358.3 938.0L365.0 936.9L371.6 936.0L378.0 931.0L385.1 925.0L393.6 914.8L398.1 912.6L402.1 914.8L404.9 922.2L411.1 923.9L414.5 930.6L421.8 935.0L427.5 936.8L432.0 938.5L438.3 936.9L444.7 937.5L451.0 937.1L457.3 938.2L463.7 937.6L470.0 937.7L476.2 938.1L482.5 937.3L488.8 936.9L495.0 937.5L501.2 937.2L507.5 938.5L513.8 937.9L520.0 938.9L526.2 940.6L532.5 940.2L539.4 940.1L546.2 939.4L553.1 939.7L560.0 938.2L566.8 937.9L573.6 939.5L580.4 938.8L587.1 938.7L593.9 938.1L600.7 939.4L607.5 939.6L613.8 939.8L620.0 940.0L626.2 938.7L632.5 940.2L638.8 939.4L645.0 940.2L651.2 939.9L657.5 940.0L663.8 939.7L670.0 940.5L676.2 939.9L682.5 939.3L688.8 940.1L695.0 938.7L701.2 939.8L707.5 939.2L713.8 940.3L720.0 940.5L726.2 939.6L732.5 940.8L738.8 939.6L745.0 940.4L751.4 941.1L757.9 940.0L764.3 941.3L770.7 941.5L777.1 940.3L783.6 941.7L790.0 941.0L796.9 941.2L803.8 942.3L810.6 940.5L817.5 942.3L824.4 941.5L831.2 942.5L838.1 942.2L845.0 942.1L851.9 941.4L858.8 941.4L865.6 942.2L872.5 942.7L879.4 942.9L886.2 943.0L893.1 943.0L900.0 941.3L906.7 941.6L913.3 942.6L920.0 942.1L926.7 942.5L933.3 941.8L940.0 942.3L946.7 942.0L953.3 942.4L960.0 941.6L966.7 943.1L973.3 942.9L980.0 942.6L986.7 941.4L993.3 941.8L1000.0 942.1L1006.0 942.4L1012.0 940.4L1016.0 940.5L1024.4 935.5L1032.0 940.5L1036.0 941.0L1042.0 942.7L1046.0 941.0L1053.0 937.5L1059.0 931.0L1063.5 922.0L1066.5 915.0L1068.5 900.0L1069.7 885.5L1070.7 853.0L1072.3 820.8L1074.0 788.5L1075.5 768.0L1077.0 760.5L1078.8 759.5L1080.6 760.5L1082.0 768.0L1083.6 788.5L1084.8 820.8L1086.1 853.0L1087.7 885.5L1089.0 900.0L1090.5 915.0L1093.0 922.0L1096.5 930.0L1102.0 937.0L1108.0 941.0L1114.0 942.0L1118.0 941.2L1124.9 941.7L1131.8 941.8L1138.7 942.3L1145.6 941.5L1152.4 941.4L1159.3 942.6L1166.2 941.4L1173.1 942.0L1180.0 942.9L1186.9 942.9L1193.8 942.2L1200.7 942.3L1207.6 942.1L1214.5 942.2L1221.4 942.4L1228.3 941.4L1235.2 942.2L1242.1 943.2L1249.0 943.1L1253.0 942.0L1260.9 939.5L1266.3 929.4L1271.7 915.6L1274.8 890.9L1277.1 875.4L1280.2 873.1L1283.2 876.2L1285.6 898.6L1288.6 907.1L1294.0 904.8L1297.9 909.4L1301.8 923.3L1307.2 935.6L1314.9 941.8L1322.0 942.5L1326.0 942.0L1333.0 941.8L1339.9 942.8L1346.9 943.1L1353.8 943.0L1360.8 941.8L1367.8 941.6L1374.7 943.1L1381.7 941.8L1388.6 943.4L1395.6 941.7L1402.6 941.9L1409.5 943.0L1416.5 943.6L1423.4 943.3L1430.4 943.2L1437.4 943.1L1444.3 943.2L1451.3 941.8L1458.2 942.9L1465.2 942.2L1472.2 942.3L1479.1 943.3L1486.1 942.5L1493.0 942.5L1500.0 942.0L1506.9 943.7L1513.9 943.3L1520.8 943.2L1527.8 943.1L1534.7 942.8L1541.7 943.6L1548.6 942.0L1555.5 943.6L1562.5 942.7L1569.4 942.2L1576.4 942.2L1583.3 942.4L1590.2 943.2L1597.2 942.4L1604.1 942.6L1611.1 943.0L1618.0 942.2L1625.0 942.8L1631.9 942.1L1638.8 942.4L1645.8 942.1L1652.7 942.8L1659.7 942.7L1666.6 943.4L1673.6 942.8L1680.5 943.5L1687.4 943.3L1694.4 942.7L1701.3 942.3L1708.3 943.2L1715.2 943.5L1722.2 942.2L1729.1 942.2L1736.0 943.5L1743.0 942.3L1749.9 942.4L1756.9 943.3L1763.8 942.0L1770.8 942.4L1777.7 943.0L1784.6 941.8L1791.6 942.7L1798.5 942.2L1805.5 943.7L1812.4 942.9L1819.3 942.3L1826.3 942.0L1833.2 943.6L1840.2 943.7L1847.1 943.3L1854.1 942.4L1861.0 943.1L1866.6 942.1L1872.2 943.3L1877.8 942.3L1883.4 942.0L1889.0 942.2L1893.0 941.5L1900.9 938.5L1904.8 931.9L1913.0 928.6L1920.8 928.0L1923.0 917.5L1925.7 908.2L1927.9 908.2L1931.2 917.5L1935.1 928.6L1940.6 938.5L1946.1 941.8L1950.0 942.0L1956.8 942.2L1963.6 941.3L1970.3 942.3L1977.1 942.9L1983.9 941.8L1990.7 942.4L1997.4 942.5L2004.2 941.9L2011.0 941.4L2018.0 942.8L2024.9 942.8L2031.8 941.9L2038.8 943.1L2045.8 942.4L2052.7 942.9L2059.7 942.1L2066.6 942.5L2073.6 942.1L2080.5 941.7L2087.4 941.7L2094.4 943.0L2101.3 941.9L2108.3 942.3L2115.2 943.2L2122.2 942.7L2129.2 942.4L2136.1 942.6L2143.1 942.0L2150.0 943.2L2156.9 943.2L2163.7 943.5L2170.6 942.7L2177.5 942.9L2184.3 943.0L2191.2 943.3L2198.1 942.8L2205.0 941.6L2211.8 942.9L2218.7 942.6L2225.6 942.0L2232.4 941.7L2239.3 942.9L2246.2 942.7L2253.0 943.4L2259.9 943.2L2266.8 941.7L2273.7 942.1L2280.5 942.7L2287.4 942.2L2294.3 943.0L2301.1 943.3L2308.0 943.5L2312.0 942.0L2318.0 938.0L2323.9 932.9L2330.0 928.0L2335.0 923.9L2339.7 912.6L2343.6 905.2L2346.5 910.0L2349.3 915.4L2354.9 925.0L2363.4 927.2L2371.8 930.6L2378.0 938.0L2383.0 942.0L2388.0 942.3L2392.0 942.8L2396.5 943.2L2401.0 943.5L2406.8 942.6L2412.7 940.7L2418.5 940.0L2418.5 949.6L2412.7 950.0L2406.8 951.5L2401.0 952.1L2396.5 952.8L2392.0 951.4L2388.0 951.3L2380.3 951.0L2371.8 948.1L2363.4 943.6L2352.0 940.8L2342.5 938.5L2335.0 940.8L2323.9 947.0L2316.0 951.0L2312.0 951.5L2308.0 952.4L2301.1 952.2L2294.3 951.3L2287.4 952.7L2280.5 952.9L2273.7 951.2L2266.8 951.7L2259.9 952.2L2253.0 951.3L2246.2 952.9L2239.3 951.9L2232.4 952.0L2225.6 952.1L2218.7 951.9L2211.8 952.0L2205.0 952.5L2198.1 952.5L2191.2 952.0L2184.3 951.6L2177.5 953.0L2170.6 952.2L2163.7 951.8L2156.9 952.8L2150.0 951.1L2143.1 951.5L2136.1 952.1L2129.2 951.3L2122.2 951.2L2115.2 952.4L2108.3 952.4L2101.3 951.3L2094.4 952.3L2087.4 951.1L2080.5 951.4L2073.6 952.5L2066.6 952.4L2059.7 951.6L2052.7 951.5L2045.8 951.3L2038.8 950.8L2031.8 951.5L2024.9 951.4L2018.0 951.8L2011.0 952.1L2004.2 951.0L1997.4 951.5L1990.7 951.7L1983.9 952.0L1977.1 950.8L1970.3 950.7L1963.6 952.2L1956.8 951.6L1950.0 950.7L1946.1 951.2L1937.9 950.6L1932.9 945.1L1928.5 936.8L1926.8 935.7L1924.0 942.9L1913.0 944.0L1900.9 947.9L1893.0 951.0L1889.0 951.6L1883.4 951.1L1877.8 950.8L1872.2 952.1L1866.6 952.5L1861.0 952.8L1854.1 952.6L1847.1 952.7L1840.2 951.9L1833.2 951.4L1826.3 953.0L1819.3 952.5L1812.4 951.4L1805.5 952.0L1798.5 952.4L1791.6 952.2L1784.6 951.9L1777.7 952.6L1770.8 951.9L1763.8 952.9L1756.9 951.4L1749.9 952.0L1743.0 952.9L1736.0 953.0L1729.1 952.6L1722.2 951.7L1715.2 951.7L1708.3 953.1L1701.3 952.6L1694.4 951.7L1687.4 953.1L1680.5 952.0L1673.6 952.6L1666.6 952.3L1659.7 952.9L1652.7 952.4L1645.8 953.2L1638.8 952.7L1631.9 951.9L1625.0 952.0L1618.0 951.2L1611.1 951.7L1604.1 952.9L1597.2 952.6L1590.2 953.1L1583.3 951.7L1576.4 952.4L1569.4 951.7L1562.5 952.6L1555.5 952.2L1548.6 952.7L1541.7 951.5L1534.7 952.5L1527.8 952.2L1520.8 952.7L1513.9 951.5L1506.9 952.0L1500.0 952.2L1493.0 952.0L1486.1 952.0L1479.1 952.0L1472.2 952.4L1465.2 951.5L1458.2 952.8L1451.3 951.8L1444.3 953.0L1437.4 951.3L1430.4 952.1L1423.4 951.1L1416.5 952.2L1409.5 952.7L1402.6 952.7L1395.6 952.7L1388.6 951.4L1381.7 951.2L1374.7 951.1L1367.8 951.3L1360.8 952.1L1353.8 952.1L1346.9 952.3L1339.9 952.7L1333.0 952.5L1326.0 951.8L1322.0 951.8L1311.0 950.3L1304.1 943.3L1299.4 933.3L1295.6 921.7L1291.0 925.6L1287.1 930.2L1284.0 929.4L1280.2 920.2L1277.8 923.3L1274.8 933.3L1268.6 943.3L1260.9 949.5L1253.0 951.5L1249.0 952.3L1242.1 951.4L1235.2 952.5L1228.3 951.5L1221.4 952.1L1214.5 951.2L1207.6 952.1L1200.7 952.1L1193.8 951.4L1186.9 951.9L1180.0 951.5L1173.1 951.9L1166.2 951.0L1159.3 951.4L1152.4 951.7L1145.6 951.2L1138.7 951.2L1131.8 951.8L1124.9 951.1L1118.0 951.4L1114.0 951.0L1104.0 949.5L1097.0 944.0L1091.0 935.0L1087.0 925.0L1084.5 905.0L1082.5 885.0L1081.0 853.0L1079.7 825.0L1078.6 808.0L1077.5 825.0L1076.0 853.0L1074.5 885.0L1072.5 905.0L1070.0 925.0L1066.0 935.0L1060.0 945.0L1052.0 949.5L1046.0 950.5L1042.0 951.9L1036.0 950.3L1032.0 950.5L1024.4 946.0L1016.0 950.5L1012.0 950.0L1006.0 950.2L1000.0 951.6L993.3 951.8L986.7 951.2L980.0 952.4L973.3 950.7L966.7 952.3L960.0 952.3L953.3 952.3L946.7 951.1L940.0 952.3L933.3 952.4L926.7 951.4L920.0 952.6L913.3 951.7L906.7 951.3L900.0 952.2L893.1 951.8L886.2 952.4L879.4 951.9L872.5 950.5L865.6 951.0L858.8 950.5L851.9 950.9L845.0 951.2L838.1 951.8L831.2 950.5L824.4 951.9L817.5 951.9L810.6 951.8L803.8 950.1L796.9 950.6L790.0 950.5L783.6 950.1L777.1 950.0L770.7 950.0L764.3 950.4L757.9 949.5L751.4 950.5L745.0 949.1L738.8 948.8L732.5 949.4L726.2 949.6L720.0 948.5L713.8 949.0L707.5 948.6L701.2 948.0L695.0 948.6L688.8 948.3L682.5 948.5L676.2 949.7L670.0 948.4L663.8 949.3L657.5 949.9L651.2 949.2L645.0 949.1L638.8 949.2L632.5 950.1L626.2 948.2L620.0 949.4L613.8 948.5L607.5 948.6L600.7 947.7L593.9 948.6L587.1 948.4L580.4 947.2L573.6 948.0L566.8 947.4L560.0 948.1L553.1 948.2L546.2 948.9L539.4 949.4L532.5 949.7L526.2 949.0L520.0 949.6L513.8 948.9L507.5 947.0L501.2 947.0L495.0 945.8L488.8 945.9L482.5 947.7L476.2 947.7L470.0 946.4L463.7 945.9L457.3 946.0L451.0 947.5L444.7 946.3L438.3 947.7L432.0 948.2L427.5 948.0L416.2 947.8L410.5 943.6L404.9 938.0L399.3 934.0L393.6 934.0L388.0 938.0L379.5 945.0L371.6 947.5L365.0 945.8L358.3 946.8L351.7 946.1L345.0 946.8L338.3 947.0L331.7 944.7L325.0 945.7L319.2 943.6L313.3 941.5L307.5 938.9L301.2 941.0L295.0 943.3L288.3 942.2L281.7 940.5L275.0 938.9L270.0 943.1L265.0 945.3L259.0 944.3L253.0 943.0L247.0 940.9L241.0 938.8L235.7 941.5L230.3 942.2L225.0 945.2L220.0 946.1L215.0 945.3L210.0 946.7L205.0 942.6L200.0 938.2L194.4 939.6L188.8 938.3L183.1 939.7L177.5 939.8Z" fill="#ff7f2a" stroke="#ff7f2a" stroke-width="1" stroke-linejoin="round"/>
</g>
<g stroke="#000" stroke-width="7" fill="none" filter="url(#soft)">
<rect x="176.5" y="45.5" width="2243.5" height="1017.5" rx="3" ry="3"/>
<line x1="497.0" y1="1035" x2="497.0" y2="1063.0"/><line x1="817.5" y1="1035" x2="817.5" y2="1063.0"/><line x1="1138.0" y1="1035" x2="1138.0" y2="1063.0"/><line x1="1458.5" y1="1035" x2="1458.5" y2="1063.0"/><line x1="1779.0" y1="1035" x2="1779.0" y2="1063.0"/><line x1="2099.5" y1="1035" x2="2099.5" y2="1063.0"/>
</g>
<g class="lg">
<line x1="1187.5" y1="130.3" x2="1422.3" y2="130.3" stroke="#3a7cd2" stroke-width="14.5"/>
<line x1="1193" y1="254.5" x2="1426" y2="254.5" stroke="#000" stroke-width="14.5"/>
<line x1="1468" y1="407" x2="1700" y2="407" stroke="#ff7a26" stroke-width="15"/>
<text x="1418.4" y="146.0" font-size="87" textLength="27.2" lengthAdjust="spacingAndGlyphs">:</text><text x="1464.1" y="146.0" font-size="87" textLength="111.7" lengthAdjust="spacingAndGlyphs">Ag</text><text x="1595.5" y="146.0" font-size="87" textLength="470.5" lengthAdjust="spacingAndGlyphs">NWs/hollow</text><text x="2088.2" y="146.0" font-size="87" textLength="147.4" lengthAdjust="spacingAndGlyphs">PPy</text><text x="2254.7" y="146.0" font-size="87" textLength="159.3" lengthAdjust="spacingAndGlyphs">NTs</text><text x="1426.2" y="271.3" font-size="87" textLength="27.7" lengthAdjust="spacingAndGlyphs">:</text><text x="1472.4" y="271.3" font-size="87" textLength="276.4" lengthAdjust="spacingAndGlyphs">Hollow</text><text x="1771.9" y="271.3" font-size="87" textLength="147.8" lengthAdjust="spacingAndGlyphs">PPy</text><text x="1938.6" y="271.3" font-size="87" textLength="158.6" lengthAdjust="spacingAndGlyphs">NTs</text><text x="1707.7" y="421.3" font-size="87" textLength="25.5" lengthAdjust="spacingAndGlyphs">:</text><text x="1754.0" y="421.3" font-size="87" textLength="110.1" lengthAdjust="spacingAndGlyphs">Ag</text><text x="1883.0" y="421.3" font-size="87" textLength="190.2" lengthAdjust="spacingAndGlyphs">NWs</text>
</g>
<g class="pk">
<text x="571.5" y="529.0" font-size="86" textLength="179.6" lengthAdjust="spacingAndGlyphs">(104)</text><text x="867.4" y="858.5" font-size="86" textLength="178.7" lengthAdjust="spacingAndGlyphs">(111)</text><text x="1293.5" y="870.0" font-size="86" textLength="177.0" lengthAdjust="spacingAndGlyphs">(200)</text><text x="1898.5" y="885.0" font-size="86" textLength="178.6" lengthAdjust="spacingAndGlyphs">(220)</text><text x="2172.9" y="896.0" font-size="86" textLength="179.3" lengthAdjust="spacingAndGlyphs">(311)</text>
</g>
<g class="tk" filter="url(#soft)">
<text x="132.1" y="1197.8" font-size="83" textLength="90.3" lengthAdjust="spacingAndGlyphs">10</text><text x="452.3" y="1197.8" font-size="83" textLength="88.0" lengthAdjust="spacingAndGlyphs">20</text><text x="774.9" y="1197.8" font-size="83" textLength="86.3" lengthAdjust="spacingAndGlyphs">30</text><text x="1096.7" y="1197.8" font-size="83" textLength="82.8" lengthAdjust="spacingAndGlyphs">40</text><text x="1415.8" y="1197.8" font-size="83" textLength="86.3" lengthAdjust="spacingAndGlyphs">50</text><text x="1738.1" y="1197.8" font-size="83" textLength="84.0" lengthAdjust="spacingAndGlyphs">60</text><text x="2054.9" y="1197.8" font-size="83" textLength="87.6" lengthAdjust="spacingAndGlyphs">70</text><text x="2377.8" y="1197.8" font-size="83" textLength="85.0" lengthAdjust="spacingAndGlyphs">80</text>
</g>
<g>
<text x="1005.9" y="1321.0" font-size="87" textLength="46.8" lengthAdjust="spacingAndGlyphs">2</text><text x="1072.5" y="1321.0" font-size="87" textLength="50.1" lengthAdjust="spacingAndGlyphs">θ</text><text x="1144.4" y="1321.0" font-size="87" textLength="134.3" lengthAdjust="spacingAndGlyphs">(Cu</text><text x="1303.1" y="1321.0" font-size="87" textLength="59.7" lengthAdjust="spacingAndGlyphs">K</text><text x="1365.8" y="1321.0" font-size="87" textLength="43.4" lengthAdjust="spacingAndGlyphs" font-style="italic">α</text><text x="1417.0" y="1321.0" font-size="87" textLength="304.2" lengthAdjust="spacingAndGlyphs">/degree)</text>
<g transform="translate(80 851) rotate(-90)"><text x="-3.3" y="0.0" font-size="89" textLength="325.5" lengthAdjust="spacingAndGlyphs">Intensity</text><text x="347.9" y="0.0" font-size="89" textLength="24.6" lengthAdjust="spacingAndGlyphs">(</text><text x="393.8" y="0.0" font-size="89" textLength="132.0" lengthAdjust="spacingAndGlyphs">a.u.</text><text x="548.8" y="0.0" font-size="89" textLength="22.6" lengthAdjust="spacingAndGlyphs">)</text></g>
</g>
</svg>
</body>
</html>
